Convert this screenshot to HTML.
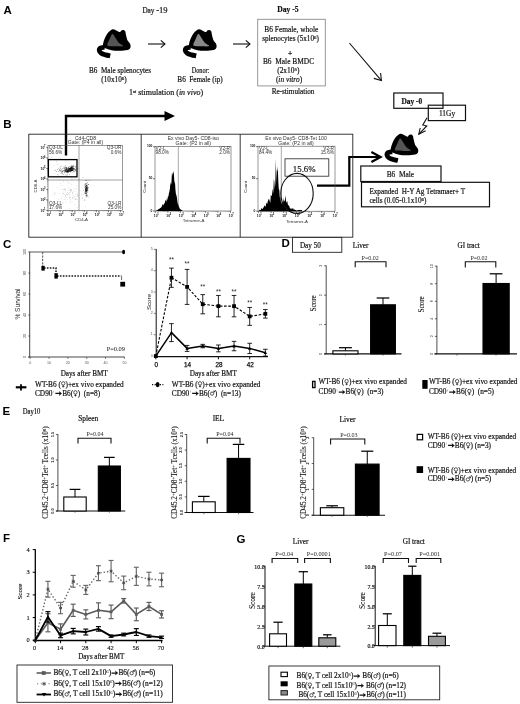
<!DOCTYPE html>
<html><head><meta charset="utf-8"><title>Figure</title>
<style>
html,body{margin:0;padding:0;background:#fff;}
body{width:520px;height:704px;overflow:hidden;font-family:"Liberation Serif",serif;}
svg{display:block;filter:blur(0.42px);}
text{white-space:pre;}
</style></head><body>
<svg width="520" height="704" viewBox="0 0 520 704">
<rect x="0" y="0" width="520" height="704" fill="#fff"/>
<text x="3.5" y="13.7" font-family="Liberation Sans" font-size="11.5" text-anchor="start" font-weight="bold" font-style="normal" fill="#000" >A</text>
<text x="155" y="12.9" font-family="Liberation Serif" font-size="8.6" text-anchor="middle" font-weight="normal" font-style="normal" fill="#111"  stroke="#111" stroke-width="0.18"><tspan font-size="7.2">Day </tspan>-19</text>
<g transform="translate(0 0) scale(1 1.0)">
<path d="M103.00,44.60 C103.15,43.28 103.60,41.23 104.40,39.30 C105.20,37.37 106.43,34.68 107.80,33.00 C109.17,31.32 111.08,29.58 112.60,29.20 C114.12,28.82 115.70,30.22 116.90,30.70 C118.10,31.18 119.07,32.13 119.80,32.10 C120.53,32.07 120.73,30.87 121.30,30.50 C121.87,30.13 122.57,29.80 123.20,29.90 C123.83,30.00 124.62,30.17 125.10,31.10 C125.58,32.03 125.70,33.97 126.10,35.50 C126.50,37.03 126.87,38.95 127.50,40.30 C128.13,41.65 129.38,42.57 129.90,43.60 C130.42,44.63 130.77,45.53 130.60,46.50 C130.43,47.47 130.38,48.70 128.90,49.40 C127.42,50.10 124.33,50.53 121.70,50.70 C119.07,50.87 115.50,50.70 113.10,50.40 C110.70,50.10 108.90,49.43 107.30,48.90 C105.70,48.37 104.22,47.92 103.50,47.20 C102.78,46.48 102.85,45.92 103.00,44.60 Z" fill="#000" stroke="none" stroke-width="1" />
<path d="M112.30,34.00 C111.33,34.35 110.23,37.73 109.40,39.50 C108.57,41.27 107.40,43.52 107.30,44.60 C107.20,45.68 107.35,45.72 108.80,46.00 C110.25,46.28 113.60,46.30 116.00,46.30 C118.40,46.30 122.73,46.60 123.20,46.00 C123.67,45.40 120.13,44.13 118.80,42.70 C117.47,41.27 116.28,38.85 115.20,37.40 C114.12,35.95 113.27,33.65 112.30,34.00 Z" fill="#555" stroke="none" stroke-width="1" />
<path d="M104.40,47.20 C103.73,47.33 101.25,47.43 100.40,48.00 C99.55,48.57 99.15,49.72 99.30,50.60 C99.45,51.48 100.27,52.58 101.30,53.30 C102.33,54.02 104.02,54.47 105.50,54.90 C106.98,55.33 109.42,55.73 110.20,55.90" fill="none" stroke="#000" stroke-width="4.8" stroke-linecap="butt"/>
</g>
<g transform="translate(86 0) scale(1 1.0)">
<path d="M103.00,44.60 C103.15,43.28 103.60,41.23 104.40,39.30 C105.20,37.37 106.43,34.68 107.80,33.00 C109.17,31.32 111.08,29.58 112.60,29.20 C114.12,28.82 115.70,30.22 116.90,30.70 C118.10,31.18 119.07,32.13 119.80,32.10 C120.53,32.07 120.73,30.87 121.30,30.50 C121.87,30.13 122.57,29.80 123.20,29.90 C123.83,30.00 124.62,30.17 125.10,31.10 C125.58,32.03 125.70,33.97 126.10,35.50 C126.50,37.03 126.87,38.95 127.50,40.30 C128.13,41.65 129.38,42.57 129.90,43.60 C130.42,44.63 130.77,45.53 130.60,46.50 C130.43,47.47 130.38,48.70 128.90,49.40 C127.42,50.10 124.33,50.53 121.70,50.70 C119.07,50.87 115.50,50.70 113.10,50.40 C110.70,50.10 108.90,49.43 107.30,48.90 C105.70,48.37 104.22,47.92 103.50,47.20 C102.78,46.48 102.85,45.92 103.00,44.60 Z" fill="#000" stroke="none" stroke-width="1" />
<path d="M112.30,34.00 C111.33,34.35 110.23,37.73 109.40,39.50 C108.57,41.27 107.40,43.52 107.30,44.60 C107.20,45.68 107.35,45.72 108.80,46.00 C110.25,46.28 113.60,46.30 116.00,46.30 C118.40,46.30 122.73,46.60 123.20,46.00 C123.67,45.40 120.13,44.13 118.80,42.70 C117.47,41.27 116.28,38.85 115.20,37.40 C114.12,35.95 113.27,33.65 112.30,34.00 Z" fill="#8a8a8a" stroke="none" stroke-width="1" />
<path d="M104.40,47.20 C103.73,47.33 101.25,47.43 100.40,48.00 C99.55,48.57 99.15,49.72 99.30,50.60 C99.45,51.48 100.27,52.58 101.30,53.30 C102.33,54.02 104.02,54.47 105.50,54.90 C106.98,55.33 109.42,55.73 110.20,55.90" fill="none" stroke="#000" stroke-width="4.8" stroke-linecap="butt"/>
</g>
<line x1="148" y1="44" x2="165" y2="44" stroke="#111" stroke-width="1.1" />
<path d="M160.8,40.4 L165,44 L160.8,47.6" fill="none" stroke="#111" stroke-width="1.1" />
<line x1="233" y1="44" x2="250" y2="44" stroke="#111" stroke-width="1.1" />
<path d="M245.8,40.4 L250,44 L245.8,47.6" fill="none" stroke="#111" stroke-width="1.1" />
<text x="120" y="73.2" font-family="Liberation Serif" font-size="7.2" text-anchor="middle" font-weight="normal" font-style="normal" fill="#111"  stroke="#111" stroke-width="0.18">B6  Male splenocytes</text>
<text x="114" y="81.7" font-family="Liberation Serif" font-size="7.2" text-anchor="middle" font-weight="normal" font-style="normal" fill="#111"  stroke="#111" stroke-width="0.18">(10x10<tspan font-size="5" baseline-shift="super">6</tspan>)</text>
<text x="200.5" y="73.2" font-family="Liberation Serif" font-size="7.2" text-anchor="middle" font-weight="normal" font-style="normal" fill="#111" textLength="17.6" lengthAdjust="spacingAndGlyphs" stroke="#111" stroke-width="0.18">Donor:</text>
<text x="200" y="81.7" font-family="Liberation Serif" font-size="7.2" text-anchor="middle" font-weight="normal" font-style="normal" fill="#111"  stroke="#111" stroke-width="0.18">B6  Female (ip)</text>
<text x="166" y="94.7" font-family="Liberation Serif" font-size="8.0" text-anchor="middle" font-weight="normal" font-style="normal" fill="#111"  stroke="#111" stroke-width="0.18">1<tspan font-size="5" baseline-shift="super">st</tspan> stimulation (<tspan font-style="italic">in vivo</tspan>)</text>
<rect x="257.7" y="19.3" width="67.6" height="66.6" fill="none" stroke="#8c8c8c" stroke-width="0.9" />
<text x="288" y="12.4" font-family="Liberation Serif" font-size="7.6" text-anchor="middle" font-weight="bold" font-style="normal" fill="#111"  stroke="#111" stroke-width="0.18">Day -5</text>
<text x="291.3" y="32.4" font-family="Liberation Serif" font-size="7.4" text-anchor="middle" font-weight="normal" font-style="normal" fill="#111"  stroke="#111" stroke-width="0.18">B6 Female, whole</text>
<text x="290.5" y="41.0" font-family="Liberation Serif" font-size="7.4" text-anchor="middle" font-weight="normal" font-style="normal" fill="#111" textLength="56.6" lengthAdjust="spacingAndGlyphs" stroke="#111" stroke-width="0.18">splenocytes (5x10<tspan font-size="5" baseline-shift="super">6</tspan>)</text>
<text x="290" y="55.8" font-family="Liberation Serif" font-size="7.4" text-anchor="middle" font-weight="bold" font-style="normal" fill="#111"  stroke="#111" stroke-width="0.18">+</text>
<text x="288.5" y="63.7" font-family="Liberation Serif" font-size="7.4" text-anchor="middle" font-weight="normal" font-style="normal" fill="#111"  stroke="#111" stroke-width="0.18">B6  Male BMDC</text>
<text x="288.3" y="72.6" font-family="Liberation Serif" font-size="7.4" text-anchor="middle" font-weight="normal" font-style="normal" fill="#111"  stroke="#111" stroke-width="0.18">(2x10<tspan font-size="5" baseline-shift="super">5</tspan>)</text>
<text x="289" y="81.5" font-family="Liberation Serif" font-size="7.4" text-anchor="middle" font-weight="normal" font-style="normal" fill="#111"  stroke="#111" stroke-width="0.18">(<tspan font-style="italic">in vitro</tspan>)</text>
<text x="293" y="93.6" font-family="Liberation Serif" font-size="7.2" text-anchor="middle" font-weight="normal" font-style="normal" fill="#111"  stroke="#111" stroke-width="0.18">Re-stimulation</text>
<line x1="349.4" y1="43" x2="381.2" y2="80.4" stroke="#111" stroke-width="1.1" />
<path d="M380.6,73 L381.4,80.6 L373.8,78.4" fill="none" stroke="#111" stroke-width="1.1" />
<rect x="393.8" y="93" width="49.2" height="15.3" fill="none" stroke="#111" stroke-width="1.2" />
<text x="411.8" y="104.0" font-family="Liberation Serif" font-size="7.4" text-anchor="middle" font-weight="bold" font-style="normal" fill="#111"  stroke="#111" stroke-width="0.18">Day -0</text>
<rect x="428.3" y="105.2" width="37.2" height="15.4" fill="none" stroke="#111" stroke-width="1.2" />
<text x="447" y="115.9" font-family="Liberation Serif" font-size="7.4" text-anchor="middle" font-weight="normal" font-style="normal" fill="#111"  stroke="#111" stroke-width="0.18">11Gy</text>
<path d="M427,117.7 L422.8,125 L426.8,126 L418.8,134.2" fill="none" stroke="#111" stroke-width="1.1" />
<path d="M420.2,128 L418.8,134.2 L425.6,130.8" fill="none" stroke="#111" stroke-width="1.1" />
<g transform="translate(287.7 104.6) scale(1 1.0)">
<path d="M103.00,44.60 C103.15,43.28 103.60,41.23 104.40,39.30 C105.20,37.37 106.43,34.68 107.80,33.00 C109.17,31.32 111.08,29.58 112.60,29.20 C114.12,28.82 115.70,30.22 116.90,30.70 C118.10,31.18 119.07,32.13 119.80,32.10 C120.53,32.07 120.73,30.87 121.30,30.50 C121.87,30.13 122.57,29.80 123.20,29.90 C123.83,30.00 124.62,30.17 125.10,31.10 C125.58,32.03 125.70,33.97 126.10,35.50 C126.50,37.03 126.87,38.95 127.50,40.30 C128.13,41.65 129.38,42.57 129.90,43.60 C130.42,44.63 130.77,45.53 130.60,46.50 C130.43,47.47 130.38,48.70 128.90,49.40 C127.42,50.10 124.33,50.53 121.70,50.70 C119.07,50.87 115.50,50.70 113.10,50.40 C110.70,50.10 108.90,49.43 107.30,48.90 C105.70,48.37 104.22,47.92 103.50,47.20 C102.78,46.48 102.85,45.92 103.00,44.60 Z" fill="#000" stroke="none" stroke-width="1" />
<path d="M112.30,34.00 C111.33,34.35 110.23,37.73 109.40,39.50 C108.57,41.27 107.40,43.52 107.30,44.60 C107.20,45.68 107.35,45.72 108.80,46.00 C110.25,46.28 113.60,46.30 116.00,46.30 C118.40,46.30 122.73,46.60 123.20,46.00 C123.67,45.40 120.13,44.13 118.80,42.70 C117.47,41.27 116.28,38.85 115.20,37.40 C114.12,35.95 113.27,33.65 112.30,34.00 Z" fill="#555" stroke="none" stroke-width="1" />
<path d="M104.40,47.20 C103.73,47.33 101.25,47.43 100.40,48.00 C99.55,48.57 99.15,49.72 99.30,50.60 C99.45,51.48 100.27,52.58 101.30,53.30 C102.33,54.02 104.02,54.47 105.50,54.90 C106.98,55.33 109.42,55.73 110.20,55.90" fill="none" stroke="#000" stroke-width="4.8" stroke-linecap="butt"/>
</g>
<rect x="360.8" y="166" width="80.2" height="15.5" fill="#fff" stroke="#111" stroke-width="1.2" />
<text x="400.4" y="176.8" font-family="Liberation Serif" font-size="7.4" text-anchor="middle" font-weight="normal" font-style="normal" fill="#111"  stroke="#111" stroke-width="0.18">B6  Male</text>
<rect x="361.5" y="182.3" width="128" height="24.5" fill="#fff" stroke="#111" stroke-width="1.2" />
<text x="369.4" y="194.2" font-family="Liberation Serif" font-size="7.2" text-anchor="start" font-weight="normal" font-style="normal" fill="#111"  stroke="#111" stroke-width="0.18">Expanded  H-Y Ag Tetramaer+ T</text>
<text x="369.4" y="202.8" font-family="Liberation Serif" font-size="7.2" text-anchor="start" font-weight="normal" font-style="normal" fill="#111"  stroke="#111" stroke-width="0.18">cells (0.05-0.1x10<tspan font-size="5" baseline-shift="super">6</tspan>)</text>
<path d="M66,155.4 L66,116 L166,116" fill="none" stroke="#000" stroke-width="2.4" />
<path d="M164.5,111 L175,116 L164.5,121 Z" fill="#000" stroke="none" stroke-width="1" />
<path d="M317,185.6 L349.3,185.6 L349.3,157 L379,157" fill="none" stroke="#000" stroke-width="2.2" />
<path d="M371.4,152 L380.6,157 L371.4,162" fill="none" stroke="#000" stroke-width="2.2" stroke-linejoin="miter"/>
<text x="3.2" y="128.2" font-family="Liberation Sans" font-size="11.5" text-anchor="start" font-weight="bold" font-style="normal" fill="#000" >B</text>
<rect x="28.8" y="134.2" width="324" height="103" fill="none" stroke="#222" stroke-width="0.9" />
<line x1="141.2" y1="134.2" x2="141.2" y2="237.2" stroke="#222" stroke-width="0.9" />
<line x1="240.2" y1="134.2" x2="240.2" y2="237.2" stroke="#222" stroke-width="0.9" />
<rect x="48" y="145.4" width="74.4" height="65.0" fill="none" stroke="#555" stroke-width="0.6" />
<text x="85.5" y="140.0" font-family="Liberation Sans" font-size="5.1" text-anchor="middle" font-weight="normal" font-style="normal" fill="#333" >Cd4-CD8</text>
<text x="85.5" y="144.4" font-family="Liberation Sans" font-size="5.1" text-anchor="middle" font-weight="normal" font-style="normal" fill="#333" >Gate: (P4 in all)</text>
<line x1="79" y1="145.4" x2="79" y2="210.4" stroke="#333" stroke-width="0.45" />
<line x1="48" y1="180" x2="122.4" y2="180" stroke="#333" stroke-width="0.45" />
<text x="49" y="149.4" font-family="Liberation Sans" font-size="4.7" text-anchor="start" font-weight="normal" font-style="normal" fill="#333" >Q3-UL</text>
<text x="49" y="153.6" font-family="Liberation Sans" font-size="4.7" text-anchor="start" font-weight="normal" font-style="normal" fill="#333" >56.6%</text>
<text x="121.4" y="149.4" font-family="Liberation Sans" font-size="4.7" text-anchor="end" font-weight="normal" font-style="normal" fill="#333" >Q3-UR</text>
<text x="121.4" y="153.6" font-family="Liberation Sans" font-size="4.7" text-anchor="end" font-weight="normal" font-style="normal" fill="#333" >0.6%</text>
<text x="49" y="204.8" font-family="Liberation Sans" font-size="4.7" text-anchor="start" font-weight="normal" font-style="normal" fill="#333" >Q3-LL</text>
<text x="49" y="208.8" font-family="Liberation Sans" font-size="4.7" text-anchor="start" font-weight="normal" font-style="normal" fill="#333" >17.6%</text>
<text x="121.4" y="204.8" font-family="Liberation Sans" font-size="4.7" text-anchor="end" font-weight="normal" font-style="normal" fill="#333" >Q3-LR</text>
<text x="121.4" y="208.8" font-family="Liberation Sans" font-size="4.7" text-anchor="end" font-weight="normal" font-style="normal" fill="#333" >25.0%</text>
<text x="81.5" y="220.6" font-family="Liberation Sans" font-size="4.3" text-anchor="middle" font-weight="normal" font-style="normal" fill="#333" >CD4-A</text>
<text x="36.8" y="186" font-family="Liberation Sans" font-size="4.3" text-anchor="middle" font-weight="normal" font-style="normal" fill="#333" transform="rotate(-90 36.8 186)" >CD8-A</text>
<line x1="48.0" y1="210.4" x2="48.0" y2="212.20000000000002" stroke="#222" stroke-width="0.6" />
<text x="46.4" y="216.0" font-family="Liberation Sans" font-size="3.3" text-anchor="start" font-weight="bold" font-style="normal" fill="#111" >10</text>
<text x="49.8" y="214.2" font-family="Liberation Sans" font-size="2.6" text-anchor="start" font-weight="bold" font-style="normal" fill="#111" >1</text>
<line x1="46.2" y1="210.4" x2="48" y2="210.4" stroke="#222" stroke-width="0.6" />
<text x="40.6" y="211.8" font-family="Liberation Sans" font-size="3.3" text-anchor="start" font-weight="bold" font-style="normal" fill="#111" >10</text>
<text x="44.0" y="210.0" font-family="Liberation Sans" font-size="2.6" text-anchor="start" font-weight="bold" font-style="normal" fill="#111" >1</text>
<line x1="60.1" y1="210.4" x2="60.1" y2="212.20000000000002" stroke="#222" stroke-width="0.6" />
<text x="58.5" y="216.0" font-family="Liberation Sans" font-size="3.3" text-anchor="start" font-weight="bold" font-style="normal" fill="#111" >10</text>
<text x="61.9" y="214.2" font-family="Liberation Sans" font-size="2.6" text-anchor="start" font-weight="bold" font-style="normal" fill="#111" >2</text>
<line x1="46.2" y1="199.9" x2="48" y2="199.9" stroke="#222" stroke-width="0.6" />
<text x="40.6" y="201.3" font-family="Liberation Sans" font-size="3.3" text-anchor="start" font-weight="bold" font-style="normal" fill="#111" >10</text>
<text x="44.0" y="199.5" font-family="Liberation Sans" font-size="2.6" text-anchor="start" font-weight="bold" font-style="normal" fill="#111" >2</text>
<line x1="72.2" y1="210.4" x2="72.2" y2="212.20000000000002" stroke="#222" stroke-width="0.6" />
<text x="70.60000000000001" y="216.0" font-family="Liberation Sans" font-size="3.3" text-anchor="start" font-weight="bold" font-style="normal" fill="#111" >10</text>
<text x="74.0" y="214.2" font-family="Liberation Sans" font-size="2.6" text-anchor="start" font-weight="bold" font-style="normal" fill="#111" >3</text>
<line x1="46.2" y1="189.4" x2="48" y2="189.4" stroke="#222" stroke-width="0.6" />
<text x="40.6" y="190.8" font-family="Liberation Sans" font-size="3.3" text-anchor="start" font-weight="bold" font-style="normal" fill="#111" >10</text>
<text x="44.0" y="189.0" font-family="Liberation Sans" font-size="2.6" text-anchor="start" font-weight="bold" font-style="normal" fill="#111" >3</text>
<line x1="84.3" y1="210.4" x2="84.3" y2="212.20000000000002" stroke="#222" stroke-width="0.6" />
<text x="82.7" y="216.0" font-family="Liberation Sans" font-size="3.3" text-anchor="start" font-weight="bold" font-style="normal" fill="#111" >10</text>
<text x="86.1" y="214.2" font-family="Liberation Sans" font-size="2.6" text-anchor="start" font-weight="bold" font-style="normal" fill="#111" >4</text>
<line x1="46.2" y1="178.9" x2="48" y2="178.9" stroke="#222" stroke-width="0.6" />
<text x="40.6" y="180.3" font-family="Liberation Sans" font-size="3.3" text-anchor="start" font-weight="bold" font-style="normal" fill="#111" >10</text>
<text x="44.0" y="178.5" font-family="Liberation Sans" font-size="2.6" text-anchor="start" font-weight="bold" font-style="normal" fill="#111" >4</text>
<line x1="96.4" y1="210.4" x2="96.4" y2="212.20000000000002" stroke="#222" stroke-width="0.6" />
<text x="94.80000000000001" y="216.0" font-family="Liberation Sans" font-size="3.3" text-anchor="start" font-weight="bold" font-style="normal" fill="#111" >10</text>
<text x="98.2" y="214.2" font-family="Liberation Sans" font-size="2.6" text-anchor="start" font-weight="bold" font-style="normal" fill="#111" >5</text>
<line x1="46.2" y1="168.4" x2="48" y2="168.4" stroke="#222" stroke-width="0.6" />
<text x="40.6" y="169.8" font-family="Liberation Sans" font-size="3.3" text-anchor="start" font-weight="bold" font-style="normal" fill="#111" >10</text>
<text x="44.0" y="168.0" font-family="Liberation Sans" font-size="2.6" text-anchor="start" font-weight="bold" font-style="normal" fill="#111" >5</text>
<line x1="108.5" y1="210.4" x2="108.5" y2="212.20000000000002" stroke="#222" stroke-width="0.6" />
<text x="106.9" y="216.0" font-family="Liberation Sans" font-size="3.3" text-anchor="start" font-weight="bold" font-style="normal" fill="#111" >10</text>
<text x="110.3" y="214.2" font-family="Liberation Sans" font-size="2.6" text-anchor="start" font-weight="bold" font-style="normal" fill="#111" >6</text>
<line x1="46.2" y1="157.9" x2="48" y2="157.9" stroke="#222" stroke-width="0.6" />
<text x="40.6" y="159.3" font-family="Liberation Sans" font-size="3.3" text-anchor="start" font-weight="bold" font-style="normal" fill="#111" >10</text>
<text x="44.0" y="157.5" font-family="Liberation Sans" font-size="2.6" text-anchor="start" font-weight="bold" font-style="normal" fill="#111" >6</text>
<line x1="120.6" y1="210.4" x2="120.6" y2="212.20000000000002" stroke="#222" stroke-width="0.6" />
<text x="119.0" y="216.0" font-family="Liberation Sans" font-size="3.3" text-anchor="start" font-weight="bold" font-style="normal" fill="#111" >10</text>
<text x="122.39999999999999" y="214.2" font-family="Liberation Sans" font-size="2.6" text-anchor="start" font-weight="bold" font-style="normal" fill="#111" >7</text>
<line x1="46.2" y1="147.4" x2="48" y2="147.4" stroke="#222" stroke-width="0.6" />
<text x="40.6" y="148.8" font-family="Liberation Sans" font-size="3.3" text-anchor="start" font-weight="bold" font-style="normal" fill="#111" >10</text>
<text x="44.0" y="147.0" font-family="Liberation Sans" font-size="2.6" text-anchor="start" font-weight="bold" font-style="normal" fill="#111" >7</text>
<line x1="51.6" y1="210.4" x2="51.6" y2="211.3" stroke="#555" stroke-width="0.3" />
<line x1="47.1" y1="207.27603305785124" x2="48" y2="207.27603305785124" stroke="#555" stroke-width="0.3" />
<line x1="53.8" y1="210.4" x2="53.8" y2="211.3" stroke="#555" stroke-width="0.3" />
<line x1="47.1" y1="205.36694214876033" x2="48" y2="205.36694214876033" stroke="#555" stroke-width="0.3" />
<line x1="55.3" y1="210.4" x2="55.3" y2="211.3" stroke="#555" stroke-width="0.3" />
<line x1="47.1" y1="204.06528925619835" x2="48" y2="204.06528925619835" stroke="#555" stroke-width="0.3" />
<line x1="56.5" y1="210.4" x2="56.5" y2="211.3" stroke="#555" stroke-width="0.3" />
<line x1="47.1" y1="203.02396694214877" x2="48" y2="203.02396694214877" stroke="#555" stroke-width="0.3" />
<line x1="57.5" y1="210.4" x2="57.5" y2="211.3" stroke="#555" stroke-width="0.3" />
<line x1="47.1" y1="202.15619834710745" x2="48" y2="202.15619834710745" stroke="#555" stroke-width="0.3" />
<line x1="58.3" y1="210.4" x2="58.3" y2="211.3" stroke="#555" stroke-width="0.3" />
<line x1="47.1" y1="201.46198347107438" x2="48" y2="201.46198347107438" stroke="#555" stroke-width="0.3" />
<line x1="59.0" y1="210.4" x2="59.0" y2="211.3" stroke="#555" stroke-width="0.3" />
<line x1="47.1" y1="200.85454545454547" x2="48" y2="200.85454545454547" stroke="#555" stroke-width="0.3" />
<line x1="59.6" y1="210.4" x2="59.6" y2="211.3" stroke="#555" stroke-width="0.3" />
<line x1="47.1" y1="200.33388429752065" x2="48" y2="200.33388429752065" stroke="#555" stroke-width="0.3" />
<line x1="63.7" y1="210.4" x2="63.7" y2="211.3" stroke="#555" stroke-width="0.3" />
<line x1="47.1" y1="196.77603305785124" x2="48" y2="196.77603305785124" stroke="#555" stroke-width="0.3" />
<line x1="65.9" y1="210.4" x2="65.9" y2="211.3" stroke="#555" stroke-width="0.3" />
<line x1="47.1" y1="194.86694214876033" x2="48" y2="194.86694214876033" stroke="#555" stroke-width="0.3" />
<line x1="67.4" y1="210.4" x2="67.4" y2="211.3" stroke="#555" stroke-width="0.3" />
<line x1="47.1" y1="193.56528925619835" x2="48" y2="193.56528925619835" stroke="#555" stroke-width="0.3" />
<line x1="68.6" y1="210.4" x2="68.6" y2="211.3" stroke="#555" stroke-width="0.3" />
<line x1="47.1" y1="192.52396694214877" x2="48" y2="192.52396694214877" stroke="#555" stroke-width="0.3" />
<line x1="69.6" y1="210.4" x2="69.6" y2="211.3" stroke="#555" stroke-width="0.3" />
<line x1="47.1" y1="191.65619834710745" x2="48" y2="191.65619834710745" stroke="#555" stroke-width="0.3" />
<line x1="70.4" y1="210.4" x2="70.4" y2="211.3" stroke="#555" stroke-width="0.3" />
<line x1="47.1" y1="190.96198347107438" x2="48" y2="190.96198347107438" stroke="#555" stroke-width="0.3" />
<line x1="71.1" y1="210.4" x2="71.1" y2="211.3" stroke="#555" stroke-width="0.3" />
<line x1="47.1" y1="190.35454545454547" x2="48" y2="190.35454545454547" stroke="#555" stroke-width="0.3" />
<line x1="71.7" y1="210.4" x2="71.7" y2="211.3" stroke="#555" stroke-width="0.3" />
<line x1="47.1" y1="189.83388429752065" x2="48" y2="189.83388429752065" stroke="#555" stroke-width="0.3" />
<line x1="75.8" y1="210.4" x2="75.8" y2="211.3" stroke="#555" stroke-width="0.3" />
<line x1="47.1" y1="186.27603305785124" x2="48" y2="186.27603305785124" stroke="#555" stroke-width="0.3" />
<line x1="78.0" y1="210.4" x2="78.0" y2="211.3" stroke="#555" stroke-width="0.3" />
<line x1="47.1" y1="184.36694214876033" x2="48" y2="184.36694214876033" stroke="#555" stroke-width="0.3" />
<line x1="79.5" y1="210.4" x2="79.5" y2="211.3" stroke="#555" stroke-width="0.3" />
<line x1="47.1" y1="183.06528925619835" x2="48" y2="183.06528925619835" stroke="#555" stroke-width="0.3" />
<line x1="80.7" y1="210.4" x2="80.7" y2="211.3" stroke="#555" stroke-width="0.3" />
<line x1="47.1" y1="182.02396694214877" x2="48" y2="182.02396694214877" stroke="#555" stroke-width="0.3" />
<line x1="81.7" y1="210.4" x2="81.7" y2="211.3" stroke="#555" stroke-width="0.3" />
<line x1="47.1" y1="181.15619834710745" x2="48" y2="181.15619834710745" stroke="#555" stroke-width="0.3" />
<line x1="82.5" y1="210.4" x2="82.5" y2="211.3" stroke="#555" stroke-width="0.3" />
<line x1="47.1" y1="180.46198347107438" x2="48" y2="180.46198347107438" stroke="#555" stroke-width="0.3" />
<line x1="83.2" y1="210.4" x2="83.2" y2="211.3" stroke="#555" stroke-width="0.3" />
<line x1="47.1" y1="179.85454545454547" x2="48" y2="179.85454545454547" stroke="#555" stroke-width="0.3" />
<line x1="83.8" y1="210.4" x2="83.8" y2="211.3" stroke="#555" stroke-width="0.3" />
<line x1="47.1" y1="179.33388429752065" x2="48" y2="179.33388429752065" stroke="#555" stroke-width="0.3" />
<line x1="87.89999999999999" y1="210.4" x2="87.89999999999999" y2="211.3" stroke="#555" stroke-width="0.3" />
<line x1="47.1" y1="175.77603305785124" x2="48" y2="175.77603305785124" stroke="#555" stroke-width="0.3" />
<line x1="90.1" y1="210.4" x2="90.1" y2="211.3" stroke="#555" stroke-width="0.3" />
<line x1="47.1" y1="173.86694214876033" x2="48" y2="173.86694214876033" stroke="#555" stroke-width="0.3" />
<line x1="91.6" y1="210.4" x2="91.6" y2="211.3" stroke="#555" stroke-width="0.3" />
<line x1="47.1" y1="172.56528925619835" x2="48" y2="172.56528925619835" stroke="#555" stroke-width="0.3" />
<line x1="92.8" y1="210.4" x2="92.8" y2="211.3" stroke="#555" stroke-width="0.3" />
<line x1="47.1" y1="171.52396694214877" x2="48" y2="171.52396694214877" stroke="#555" stroke-width="0.3" />
<line x1="93.8" y1="210.4" x2="93.8" y2="211.3" stroke="#555" stroke-width="0.3" />
<line x1="47.1" y1="170.65619834710745" x2="48" y2="170.65619834710745" stroke="#555" stroke-width="0.3" />
<line x1="94.6" y1="210.4" x2="94.6" y2="211.3" stroke="#555" stroke-width="0.3" />
<line x1="47.1" y1="169.96198347107438" x2="48" y2="169.96198347107438" stroke="#555" stroke-width="0.3" />
<line x1="95.3" y1="210.4" x2="95.3" y2="211.3" stroke="#555" stroke-width="0.3" />
<line x1="47.1" y1="169.35454545454547" x2="48" y2="169.35454545454547" stroke="#555" stroke-width="0.3" />
<line x1="95.89999999999999" y1="210.4" x2="95.89999999999999" y2="211.3" stroke="#555" stroke-width="0.3" />
<line x1="47.1" y1="168.83388429752065" x2="48" y2="168.83388429752065" stroke="#555" stroke-width="0.3" />
<line x1="100.0" y1="210.4" x2="100.0" y2="211.3" stroke="#555" stroke-width="0.3" />
<line x1="47.1" y1="165.27603305785124" x2="48" y2="165.27603305785124" stroke="#555" stroke-width="0.3" />
<line x1="102.2" y1="210.4" x2="102.2" y2="211.3" stroke="#555" stroke-width="0.3" />
<line x1="47.1" y1="163.36694214876033" x2="48" y2="163.36694214876033" stroke="#555" stroke-width="0.3" />
<line x1="103.7" y1="210.4" x2="103.7" y2="211.3" stroke="#555" stroke-width="0.3" />
<line x1="47.1" y1="162.06528925619835" x2="48" y2="162.06528925619835" stroke="#555" stroke-width="0.3" />
<line x1="104.9" y1="210.4" x2="104.9" y2="211.3" stroke="#555" stroke-width="0.3" />
<line x1="47.1" y1="161.02396694214877" x2="48" y2="161.02396694214877" stroke="#555" stroke-width="0.3" />
<line x1="105.9" y1="210.4" x2="105.9" y2="211.3" stroke="#555" stroke-width="0.3" />
<line x1="47.1" y1="160.15619834710745" x2="48" y2="160.15619834710745" stroke="#555" stroke-width="0.3" />
<line x1="106.7" y1="210.4" x2="106.7" y2="211.3" stroke="#555" stroke-width="0.3" />
<line x1="47.1" y1="159.46198347107438" x2="48" y2="159.46198347107438" stroke="#555" stroke-width="0.3" />
<line x1="107.4" y1="210.4" x2="107.4" y2="211.3" stroke="#555" stroke-width="0.3" />
<line x1="47.1" y1="158.85454545454547" x2="48" y2="158.85454545454547" stroke="#555" stroke-width="0.3" />
<line x1="108.0" y1="210.4" x2="108.0" y2="211.3" stroke="#555" stroke-width="0.3" />
<line x1="47.1" y1="158.33388429752065" x2="48" y2="158.33388429752065" stroke="#555" stroke-width="0.3" />
<line x1="112.1" y1="210.4" x2="112.1" y2="211.3" stroke="#555" stroke-width="0.3" />
<line x1="47.1" y1="154.77603305785124" x2="48" y2="154.77603305785124" stroke="#555" stroke-width="0.3" />
<line x1="114.3" y1="210.4" x2="114.3" y2="211.3" stroke="#555" stroke-width="0.3" />
<line x1="47.1" y1="152.86694214876033" x2="48" y2="152.86694214876033" stroke="#555" stroke-width="0.3" />
<line x1="115.8" y1="210.4" x2="115.8" y2="211.3" stroke="#555" stroke-width="0.3" />
<line x1="47.1" y1="151.56528925619835" x2="48" y2="151.56528925619835" stroke="#555" stroke-width="0.3" />
<line x1="117.0" y1="210.4" x2="117.0" y2="211.3" stroke="#555" stroke-width="0.3" />
<line x1="47.1" y1="150.52396694214877" x2="48" y2="150.52396694214877" stroke="#555" stroke-width="0.3" />
<line x1="118.0" y1="210.4" x2="118.0" y2="211.3" stroke="#555" stroke-width="0.3" />
<line x1="47.1" y1="149.65619834710745" x2="48" y2="149.65619834710745" stroke="#555" stroke-width="0.3" />
<line x1="118.8" y1="210.4" x2="118.8" y2="211.3" stroke="#555" stroke-width="0.3" />
<line x1="47.1" y1="148.96198347107438" x2="48" y2="148.96198347107438" stroke="#555" stroke-width="0.3" />
<line x1="119.5" y1="210.4" x2="119.5" y2="211.3" stroke="#555" stroke-width="0.3" />
<line x1="47.1" y1="148.35454545454547" x2="48" y2="148.35454545454547" stroke="#555" stroke-width="0.3" />
<line x1="120.1" y1="210.4" x2="120.1" y2="211.3" stroke="#555" stroke-width="0.3" />
<line x1="47.1" y1="147.83388429752065" x2="48" y2="147.83388429752065" stroke="#555" stroke-width="0.3" />
<path d="M69.1,170.0h0.72v0.72h-0.72zM69.1,169.1h0.72v0.72h-0.72zM67.7,169.6h0.72v0.72h-0.72zM71.8,169.2h0.72v0.72h-0.72zM71.7,169.0h0.72v0.72h-0.72zM70.4,169.3h0.72v0.72h-0.72zM66.3,171.1h0.72v0.72h-0.72zM70.6,169.6h0.72v0.72h-0.72zM66.2,168.3h0.72v0.72h-0.72zM67.8,169.3h0.72v0.72h-0.72zM70.2,169.1h0.72v0.72h-0.72zM70.6,168.3h0.72v0.72h-0.72zM70.2,169.6h0.72v0.72h-0.72zM68.3,171.5h0.72v0.72h-0.72zM70.7,170.3h0.72v0.72h-0.72zM68.4,168.8h0.72v0.72h-0.72zM68.9,169.4h0.72v0.72h-0.72zM70.9,169.2h0.72v0.72h-0.72zM68.7,168.5h0.72v0.72h-0.72zM68.6,170.9h0.72v0.72h-0.72zM68.0,170.0h0.72v0.72h-0.72zM70.5,167.5h0.72v0.72h-0.72zM69.7,170.7h0.72v0.72h-0.72zM65.6,170.0h0.72v0.72h-0.72zM69.4,168.5h0.72v0.72h-0.72zM70.6,169.0h0.72v0.72h-0.72zM66.7,171.0h0.72v0.72h-0.72zM70.9,170.0h0.72v0.72h-0.72zM72.5,168.9h0.72v0.72h-0.72zM69.8,167.8h0.72v0.72h-0.72zM70.8,168.3h0.72v0.72h-0.72zM68.7,168.2h0.72v0.72h-0.72zM67.7,169.3h0.72v0.72h-0.72zM72.2,166.4h0.72v0.72h-0.72zM66.7,170.3h0.72v0.72h-0.72zM72.5,169.1h0.72v0.72h-0.72zM65.8,167.6h0.72v0.72h-0.72zM70.3,168.3h0.72v0.72h-0.72zM67.4,171.0h0.72v0.72h-0.72zM71.8,168.9h0.72v0.72h-0.72zM70.1,169.6h0.72v0.72h-0.72zM72.8,169.1h0.72v0.72h-0.72zM70.6,169.6h0.72v0.72h-0.72zM66.5,171.5h0.72v0.72h-0.72zM71.5,169.4h0.72v0.72h-0.72zM65.7,169.7h0.72v0.72h-0.72zM71.3,166.9h0.72v0.72h-0.72zM69.2,170.5h0.72v0.72h-0.72zM67.0,171.7h0.72v0.72h-0.72zM70.7,168.8h0.72v0.72h-0.72zM70.2,169.8h0.72v0.72h-0.72zM69.8,170.5h0.72v0.72h-0.72zM68.3,169.2h0.72v0.72h-0.72zM71.7,168.8h0.72v0.72h-0.72zM67.8,170.8h0.72v0.72h-0.72zM72.5,168.0h0.72v0.72h-0.72zM66.8,169.9h0.72v0.72h-0.72zM69.3,169.1h0.72v0.72h-0.72zM72.4,167.4h0.72v0.72h-0.72zM72.1,167.3h0.72v0.72h-0.72zM68.0,170.4h0.72v0.72h-0.72zM71.9,169.6h0.72v0.72h-0.72zM70.3,169.3h0.72v0.72h-0.72zM69.9,169.8h0.72v0.72h-0.72zM69.2,169.7h0.72v0.72h-0.72zM70.7,169.0h0.72v0.72h-0.72zM71.1,169.5h0.72v0.72h-0.72zM73.6,168.6h0.72v0.72h-0.72zM68.7,169.1h0.72v0.72h-0.72zM69.6,170.3h0.72v0.72h-0.72zM68.9,169.9h0.72v0.72h-0.72zM73.3,165.6h0.72v0.72h-0.72zM67.4,170.2h0.72v0.72h-0.72zM70.4,169.3h0.72v0.72h-0.72zM68.7,170.2h0.72v0.72h-0.72zM70.2,168.6h0.72v0.72h-0.72zM74.5,168.4h0.72v0.72h-0.72zM68.5,169.5h0.72v0.72h-0.72zM69.1,169.4h0.72v0.72h-0.72zM64.1,170.3h0.72v0.72h-0.72zM71.6,167.5h0.72v0.72h-0.72zM69.5,170.4h0.72v0.72h-0.72zM71.3,170.4h0.72v0.72h-0.72zM66.2,169.8h0.72v0.72h-0.72zM68.9,170.2h0.72v0.72h-0.72zM71.8,165.8h0.72v0.72h-0.72zM71.8,167.2h0.72v0.72h-0.72zM71.0,167.3h0.72v0.72h-0.72zM70.0,170.5h0.72v0.72h-0.72zM69.3,169.6h0.72v0.72h-0.72zM71.2,169.0h0.72v0.72h-0.72zM69.4,171.0h0.72v0.72h-0.72zM71.7,168.4h0.72v0.72h-0.72zM75.1,166.6h0.72v0.72h-0.72zM71.4,168.5h0.72v0.72h-0.72zM69.9,170.0h0.72v0.72h-0.72zM70.0,169.9h0.72v0.72h-0.72zM66.5,168.5h0.72v0.72h-0.72zM70.8,167.9h0.72v0.72h-0.72zM67.5,168.3h0.72v0.72h-0.72zM72.1,169.4h0.72v0.72h-0.72zM72.5,167.5h0.72v0.72h-0.72zM69.6,168.1h0.72v0.72h-0.72zM71.1,170.6h0.72v0.72h-0.72zM67.8,171.5h0.72v0.72h-0.72zM71.6,168.6h0.72v0.72h-0.72zM65.7,171.9h0.72v0.72h-0.72zM69.4,168.7h0.72v0.72h-0.72zM70.4,169.5h0.72v0.72h-0.72zM72.6,167.4h0.72v0.72h-0.72zM71.9,170.3h0.72v0.72h-0.72zM72.5,168.3h0.72v0.72h-0.72zM68.1,170.8h0.72v0.72h-0.72zM69.8,169.4h0.72v0.72h-0.72zM72.4,168.2h0.72v0.72h-0.72zM65.0,170.1h0.72v0.72h-0.72zM65.9,171.2h0.72v0.72h-0.72zM70.2,168.5h0.72v0.72h-0.72zM69.6,170.2h0.72v0.72h-0.72zM69.8,170.7h0.72v0.72h-0.72zM69.5,170.4h0.72v0.72h-0.72zM72.6,170.2h0.72v0.72h-0.72zM68.3,170.6h0.72v0.72h-0.72zM65.8,169.2h0.72v0.72h-0.72zM65.7,171.5h0.72v0.72h-0.72zM67.1,170.0h0.72v0.72h-0.72zM69.2,169.4h0.72v0.72h-0.72zM68.4,169.9h0.72v0.72h-0.72zM73.2,168.4h0.72v0.72h-0.72zM70.7,170.1h0.72v0.72h-0.72zM69.2,168.1h0.72v0.72h-0.72zM68.5,170.8h0.72v0.72h-0.72zM66.3,169.5h0.72v0.72h-0.72zM71.6,169.6h0.72v0.72h-0.72zM69.6,170.2h0.72v0.72h-0.72zM69.9,167.9h0.72v0.72h-0.72zM66.5,169.5h0.72v0.72h-0.72zM71.4,168.2h0.72v0.72h-0.72zM67.8,169.0h0.72v0.72h-0.72zM66.5,170.0h0.72v0.72h-0.72zM67.2,170.3h0.72v0.72h-0.72zM64.9,170.9h0.72v0.72h-0.72zM68.3,167.6h0.72v0.72h-0.72zM71.0,168.6h0.72v0.72h-0.72zM65.1,169.6h0.72v0.72h-0.72zM70.2,168.7h0.72v0.72h-0.72zM71.2,169.7h0.72v0.72h-0.72zM70.9,169.3h0.72v0.72h-0.72zM72.3,169.3h0.72v0.72h-0.72zM70.5,166.8h0.72v0.72h-0.72zM71.4,170.2h0.72v0.72h-0.72zM69.0,169.0h0.72v0.72h-0.72zM73.5,166.4h0.72v0.72h-0.72zM70.5,171.6h0.72v0.72h-0.72zM67.7,170.5h0.72v0.72h-0.72zM73.4,168.2h0.72v0.72h-0.72zM70.7,170.0h0.72v0.72h-0.72zM67.8,169.7h0.72v0.72h-0.72zM70.2,170.0h0.72v0.72h-0.72zM69.5,169.1h0.72v0.72h-0.72zM67.6,169.5h0.72v0.72h-0.72zM71.4,168.9h0.72v0.72h-0.72zM67.9,168.9h0.72v0.72h-0.72zM74.9,169.1h0.72v0.72h-0.72zM70.9,166.2h0.72v0.72h-0.72zM70.8,169.5h0.72v0.72h-0.72zM73.0,168.8h0.72v0.72h-0.72zM69.5,169.9h0.72v0.72h-0.72zM65.7,171.5h0.72v0.72h-0.72zM70.2,168.4h0.72v0.72h-0.72z" fill="#000" opacity="1"/>
<path d="M72.6,172.5h0.60v0.60h-0.60zM59.0,169.6h0.60v0.60h-0.60zM67.5,170.2h0.60v0.60h-0.60zM64.0,168.5h0.60v0.60h-0.60zM76.6,170.7h0.60v0.60h-0.60zM60.0,168.2h0.60v0.60h-0.60zM74.5,170.8h0.60v0.60h-0.60zM75.1,170.4h0.60v0.60h-0.60zM61.6,171.0h0.60v0.60h-0.60zM55.2,169.9h0.60v0.60h-0.60zM65.7,171.0h0.60v0.60h-0.60zM62.4,170.2h0.60v0.60h-0.60zM68.3,170.4h0.60v0.60h-0.60zM69.2,170.0h0.60v0.60h-0.60zM64.4,171.6h0.60v0.60h-0.60zM66.2,168.5h0.60v0.60h-0.60zM62.9,170.4h0.60v0.60h-0.60zM65.5,170.3h0.60v0.60h-0.60zM66.0,170.3h0.60v0.60h-0.60zM65.3,167.8h0.60v0.60h-0.60zM68.1,171.7h0.60v0.60h-0.60zM68.2,169.4h0.60v0.60h-0.60zM68.2,168.0h0.60v0.60h-0.60zM56.5,171.2h0.60v0.60h-0.60zM61.3,171.9h0.60v0.60h-0.60zM60.6,165.9h0.60v0.60h-0.60zM60.8,173.5h0.60v0.60h-0.60zM64.1,167.7h0.60v0.60h-0.60zM62.2,171.4h0.60v0.60h-0.60zM68.5,170.0h0.60v0.60h-0.60zM73.4,170.4h0.60v0.60h-0.60zM65.9,171.1h0.60v0.60h-0.60zM74.3,170.8h0.60v0.60h-0.60zM71.1,167.5h0.60v0.60h-0.60zM65.3,171.4h0.60v0.60h-0.60zM64.5,172.1h0.60v0.60h-0.60zM69.0,171.3h0.60v0.60h-0.60zM64.9,174.7h0.60v0.60h-0.60zM72.2,168.9h0.60v0.60h-0.60zM66.5,174.7h0.60v0.60h-0.60zM64.3,171.8h0.60v0.60h-0.60zM70.9,169.5h0.60v0.60h-0.60zM60.2,171.0h0.60v0.60h-0.60zM67.8,171.8h0.60v0.60h-0.60zM69.9,169.6h0.60v0.60h-0.60zM70.3,170.5h0.60v0.60h-0.60zM67.0,170.0h0.60v0.60h-0.60zM64.8,171.4h0.60v0.60h-0.60zM60.7,169.5h0.60v0.60h-0.60zM66.0,167.3h0.60v0.60h-0.60zM63.8,166.6h0.60v0.60h-0.60zM62.6,171.4h0.60v0.60h-0.60zM68.8,169.6h0.60v0.60h-0.60zM64.8,167.6h0.60v0.60h-0.60zM75.1,169.9h0.60v0.60h-0.60zM71.5,167.8h0.60v0.60h-0.60zM65.1,166.8h0.60v0.60h-0.60zM69.9,171.3h0.60v0.60h-0.60zM56.5,171.0h0.60v0.60h-0.60zM69.2,166.4h0.60v0.60h-0.60zM56.9,169.1h0.60v0.60h-0.60zM62.9,167.8h0.60v0.60h-0.60zM66.2,170.4h0.60v0.60h-0.60zM69.2,170.9h0.60v0.60h-0.60zM73.5,171.3h0.60v0.60h-0.60zM59.4,169.8h0.60v0.60h-0.60zM60.7,168.7h0.60v0.60h-0.60zM65.6,170.1h0.60v0.60h-0.60zM68.5,166.8h0.60v0.60h-0.60zM59.8,170.7h0.60v0.60h-0.60zM65.0,169.5h0.60v0.60h-0.60zM65.7,168.7h0.60v0.60h-0.60zM69.5,170.2h0.60v0.60h-0.60zM65.6,168.8h0.60v0.60h-0.60zM65.1,165.2h0.60v0.60h-0.60zM61.1,170.6h0.60v0.60h-0.60zM58.5,171.2h0.60v0.60h-0.60zM66.7,167.4h0.60v0.60h-0.60zM64.7,169.6h0.60v0.60h-0.60zM68.3,170.8h0.60v0.60h-0.60zM65.8,168.5h0.60v0.60h-0.60zM65.3,170.0h0.60v0.60h-0.60zM69.7,170.1h0.60v0.60h-0.60zM62.4,168.0h0.60v0.60h-0.60zM64.1,168.9h0.60v0.60h-0.60zM60.4,170.4h0.60v0.60h-0.60zM63.5,170.5h0.60v0.60h-0.60zM68.6,169.0h0.60v0.60h-0.60zM77.6,168.1h0.60v0.60h-0.60zM71.5,169.6h0.60v0.60h-0.60zM71.6,165.1h0.60v0.60h-0.60zM62.2,170.9h0.60v0.60h-0.60zM69.0,173.9h0.60v0.60h-0.60zM67.6,172.1h0.60v0.60h-0.60zM69.8,171.3h0.60v0.60h-0.60zM68.6,169.4h0.60v0.60h-0.60zM68.5,167.8h0.60v0.60h-0.60zM71.9,167.5h0.60v0.60h-0.60zM67.2,173.7h0.60v0.60h-0.60zM64.9,170.2h0.60v0.60h-0.60zM71.8,169.4h0.60v0.60h-0.60zM62.0,170.9h0.60v0.60h-0.60zM68.9,171.0h0.60v0.60h-0.60zM62.1,173.6h0.60v0.60h-0.60zM74.3,169.1h0.60v0.60h-0.60zM67.3,169.1h0.60v0.60h-0.60zM73.1,167.9h0.60v0.60h-0.60zM69.4,168.7h0.60v0.60h-0.60zM62.5,171.7h0.60v0.60h-0.60zM72.7,169.2h0.60v0.60h-0.60zM62.6,171.9h0.60v0.60h-0.60zM65.8,170.6h0.60v0.60h-0.60zM73.6,171.2h0.60v0.60h-0.60zM63.4,174.4h0.60v0.60h-0.60zM66.0,171.4h0.60v0.60h-0.60zM62.8,170.3h0.60v0.60h-0.60zM57.3,174.2h0.60v0.60h-0.60zM72.8,167.0h0.60v0.60h-0.60zM58.5,167.9h0.60v0.60h-0.60zM71.9,168.5h0.60v0.60h-0.60z" fill="#444" opacity="1"/>
<path d="M86.0,188.2h0.66v0.66h-0.66zM85.9,186.2h0.66v0.66h-0.66zM86.0,185.3h0.66v0.66h-0.66zM85.9,189.8h0.66v0.66h-0.66zM86.3,188.4h0.66v0.66h-0.66zM85.4,189.4h0.66v0.66h-0.66zM85.7,193.1h0.66v0.66h-0.66zM86.5,188.7h0.66v0.66h-0.66zM85.7,187.2h0.66v0.66h-0.66zM85.3,188.1h0.66v0.66h-0.66zM86.2,190.3h0.66v0.66h-0.66zM86.4,194.5h0.66v0.66h-0.66zM85.5,189.0h0.66v0.66h-0.66zM88.0,184.1h0.66v0.66h-0.66zM85.6,189.4h0.66v0.66h-0.66zM86.1,190.1h0.66v0.66h-0.66zM85.8,190.0h0.66v0.66h-0.66zM86.0,191.0h0.66v0.66h-0.66zM84.7,186.7h0.66v0.66h-0.66zM86.0,186.3h0.66v0.66h-0.66zM85.3,190.6h0.66v0.66h-0.66zM85.5,190.7h0.66v0.66h-0.66zM86.5,189.8h0.66v0.66h-0.66zM86.4,188.7h0.66v0.66h-0.66zM85.0,188.9h0.66v0.66h-0.66zM86.3,187.6h0.66v0.66h-0.66zM85.9,190.9h0.66v0.66h-0.66zM85.4,190.7h0.66v0.66h-0.66zM87.3,187.6h0.66v0.66h-0.66zM86.1,188.6h0.66v0.66h-0.66zM87.1,189.8h0.66v0.66h-0.66zM86.6,187.2h0.66v0.66h-0.66zM86.0,189.0h0.66v0.66h-0.66zM84.8,192.7h0.66v0.66h-0.66zM86.6,184.5h0.66v0.66h-0.66zM86.5,188.7h0.66v0.66h-0.66zM86.3,190.0h0.66v0.66h-0.66zM85.0,188.4h0.66v0.66h-0.66zM87.0,187.5h0.66v0.66h-0.66zM85.3,185.5h0.66v0.66h-0.66zM85.1,189.9h0.66v0.66h-0.66zM87.2,190.1h0.66v0.66h-0.66zM86.2,194.8h0.66v0.66h-0.66zM85.6,187.2h0.66v0.66h-0.66zM86.4,190.4h0.66v0.66h-0.66zM85.3,186.0h0.66v0.66h-0.66zM86.2,189.6h0.66v0.66h-0.66zM85.1,188.5h0.66v0.66h-0.66zM85.6,190.2h0.66v0.66h-0.66zM85.9,188.8h0.66v0.66h-0.66zM85.8,191.7h0.66v0.66h-0.66zM87.0,188.0h0.66v0.66h-0.66zM86.6,187.0h0.66v0.66h-0.66zM86.1,190.9h0.66v0.66h-0.66zM87.1,188.0h0.66v0.66h-0.66zM85.9,189.5h0.66v0.66h-0.66zM85.0,189.0h0.66v0.66h-0.66zM85.5,190.0h0.66v0.66h-0.66zM85.2,183.9h0.66v0.66h-0.66zM86.0,189.7h0.66v0.66h-0.66zM85.6,191.3h0.66v0.66h-0.66zM85.8,187.4h0.66v0.66h-0.66zM86.3,184.9h0.66v0.66h-0.66zM85.5,188.9h0.66v0.66h-0.66zM86.6,188.6h0.66v0.66h-0.66zM86.2,187.3h0.66v0.66h-0.66zM86.2,193.3h0.66v0.66h-0.66zM85.5,195.2h0.66v0.66h-0.66zM85.5,189.0h0.66v0.66h-0.66zM86.1,191.7h0.66v0.66h-0.66zM85.1,183.5h0.66v0.66h-0.66zM86.4,191.1h0.66v0.66h-0.66zM86.4,195.8h0.66v0.66h-0.66zM86.1,189.7h0.66v0.66h-0.66zM86.7,190.0h0.66v0.66h-0.66zM87.2,185.8h0.66v0.66h-0.66zM85.7,180.0h0.66v0.66h-0.66zM86.6,188.0h0.66v0.66h-0.66zM86.6,194.6h0.66v0.66h-0.66zM86.0,188.3h0.66v0.66h-0.66zM85.7,186.8h0.66v0.66h-0.66zM85.6,190.7h0.66v0.66h-0.66zM86.0,189.2h0.66v0.66h-0.66zM85.9,191.4h0.66v0.66h-0.66zM86.3,188.6h0.66v0.66h-0.66zM86.5,188.6h0.66v0.66h-0.66zM85.2,192.8h0.66v0.66h-0.66zM86.3,186.5h0.66v0.66h-0.66zM86.8,189.9h0.66v0.66h-0.66zM84.9,193.2h0.66v0.66h-0.66zM86.2,191.3h0.66v0.66h-0.66zM86.1,188.6h0.66v0.66h-0.66zM84.9,191.5h0.66v0.66h-0.66zM86.0,188.3h0.66v0.66h-0.66zM86.2,189.2h0.66v0.66h-0.66zM86.5,188.0h0.66v0.66h-0.66zM86.0,183.4h0.66v0.66h-0.66zM85.7,190.8h0.66v0.66h-0.66zM86.9,188.1h0.66v0.66h-0.66zM85.9,193.1h0.66v0.66h-0.66zM85.8,190.9h0.66v0.66h-0.66zM87.2,189.1h0.66v0.66h-0.66zM86.9,187.2h0.66v0.66h-0.66zM86.1,188.8h0.66v0.66h-0.66zM86.1,191.9h0.66v0.66h-0.66zM87.7,187.3h0.66v0.66h-0.66zM85.6,190.3h0.66v0.66h-0.66zM85.3,190.3h0.66v0.66h-0.66zM86.4,188.3h0.66v0.66h-0.66zM86.4,185.0h0.66v0.66h-0.66z" fill="#111" opacity="1"/>
<path d="M87.2,181.9h0.54v0.54h-0.54zM84.9,186.4h0.54v0.54h-0.54zM85.4,193.0h0.54v0.54h-0.54zM86.1,187.2h0.54v0.54h-0.54zM86.9,196.3h0.54v0.54h-0.54zM86.0,190.7h0.54v0.54h-0.54zM88.0,190.2h0.54v0.54h-0.54zM83.9,200.5h0.54v0.54h-0.54zM89.5,179.9h0.54v0.54h-0.54zM85.9,190.9h0.54v0.54h-0.54zM87.5,192.1h0.54v0.54h-0.54zM85.6,184.2h0.54v0.54h-0.54zM86.2,193.8h0.54v0.54h-0.54zM84.3,184.3h0.54v0.54h-0.54zM86.0,180.1h0.54v0.54h-0.54zM85.6,187.0h0.54v0.54h-0.54zM86.7,185.8h0.54v0.54h-0.54zM84.6,187.2h0.54v0.54h-0.54zM85.9,185.9h0.54v0.54h-0.54zM86.0,192.5h0.54v0.54h-0.54zM87.9,196.8h0.54v0.54h-0.54zM84.7,187.1h0.54v0.54h-0.54zM82.0,197.7h0.54v0.54h-0.54zM84.8,188.8h0.54v0.54h-0.54zM86.8,182.8h0.54v0.54h-0.54zM86.7,188.9h0.54v0.54h-0.54zM83.1,190.3h0.54v0.54h-0.54zM87.9,180.4h0.54v0.54h-0.54zM87.3,190.0h0.54v0.54h-0.54zM86.8,191.0h0.54v0.54h-0.54zM88.1,188.0h0.54v0.54h-0.54zM87.4,187.1h0.54v0.54h-0.54zM87.2,185.3h0.54v0.54h-0.54zM85.8,197.0h0.54v0.54h-0.54zM86.7,188.3h0.54v0.54h-0.54zM84.2,185.4h0.54v0.54h-0.54zM86.3,193.3h0.54v0.54h-0.54zM86.7,191.4h0.54v0.54h-0.54zM85.9,195.2h0.54v0.54h-0.54zM85.4,186.5h0.54v0.54h-0.54zM87.4,189.3h0.54v0.54h-0.54zM85.6,186.3h0.54v0.54h-0.54zM85.6,191.9h0.54v0.54h-0.54zM86.6,183.4h0.54v0.54h-0.54zM86.7,189.8h0.54v0.54h-0.54zM84.4,192.6h0.54v0.54h-0.54zM85.6,187.5h0.54v0.54h-0.54zM87.3,195.1h0.54v0.54h-0.54zM84.9,191.0h0.54v0.54h-0.54zM84.6,199.6h0.54v0.54h-0.54z" fill="#666" opacity="1"/>
<path d="M65.8,201.8h0.52v0.52h-0.52zM64.8,199.3h0.52v0.52h-0.52zM83.4,177.5h0.52v0.52h-0.52zM66.2,197.3h0.52v0.52h-0.52zM68.4,189.7h0.52v0.52h-0.52zM83.0,194.5h0.52v0.52h-0.52zM58.3,199.6h0.52v0.52h-0.52zM57.8,201.5h0.52v0.52h-0.52zM65.2,194.9h0.52v0.52h-0.52zM77.2,194.8h0.52v0.52h-0.52zM60.0,183.0h0.52v0.52h-0.52zM76.7,198.8h0.52v0.52h-0.52zM63.7,199.6h0.52v0.52h-0.52zM72.2,198.2h0.52v0.52h-0.52zM54.3,192.0h0.52v0.52h-0.52zM74.9,198.8h0.52v0.52h-0.52zM74.7,178.0h0.52v0.52h-0.52zM70.1,197.2h0.52v0.52h-0.52zM85.6,187.8h0.52v0.52h-0.52zM66.9,194.2h0.52v0.52h-0.52zM74.8,191.1h0.52v0.52h-0.52zM76.5,188.9h0.52v0.52h-0.52zM70.7,190.6h0.52v0.52h-0.52zM70.0,189.5h0.52v0.52h-0.52zM58.6,201.1h0.52v0.52h-0.52zM71.0,190.4h0.52v0.52h-0.52zM70.3,200.4h0.52v0.52h-0.52zM62.6,193.3h0.52v0.52h-0.52zM72.5,197.4h0.52v0.52h-0.52zM66.8,180.3h0.52v0.52h-0.52zM77.1,196.1h0.52v0.52h-0.52zM69.1,192.2h0.52v0.52h-0.52zM70.7,191.2h0.52v0.52h-0.52zM62.3,189.2h0.52v0.52h-0.52zM65.1,190.0h0.52v0.52h-0.52zM61.5,198.1h0.52v0.52h-0.52zM60.5,198.3h0.52v0.52h-0.52zM62.4,196.3h0.52v0.52h-0.52zM77.9,195.3h0.52v0.52h-0.52zM64.2,194.3h0.52v0.52h-0.52zM70.0,182.7h0.52v0.52h-0.52zM65.1,195.1h0.52v0.52h-0.52zM66.0,194.5h0.52v0.52h-0.52zM73.8,199.0h0.52v0.52h-0.52zM74.9,197.8h0.52v0.52h-0.52zM67.1,193.9h0.52v0.52h-0.52zM67.2,192.0h0.52v0.52h-0.52zM67.8,182.8h0.52v0.52h-0.52zM66.8,193.8h0.52v0.52h-0.52zM62.7,193.8h0.52v0.52h-0.52zM72.4,192.9h0.52v0.52h-0.52zM82.5,177.1h0.52v0.52h-0.52zM67.7,182.1h0.52v0.52h-0.52zM52.7,194.8h0.52v0.52h-0.52zM72.4,192.0h0.52v0.52h-0.52zM72.6,179.4h0.52v0.52h-0.52zM74.5,196.4h0.52v0.52h-0.52zM69.1,190.2h0.52v0.52h-0.52zM73.1,190.8h0.52v0.52h-0.52zM70.5,190.7h0.52v0.52h-0.52zM54.4,193.8h0.52v0.52h-0.52zM70.3,198.9h0.52v0.52h-0.52zM63.3,193.8h0.52v0.52h-0.52zM73.0,194.9h0.52v0.52h-0.52zM77.1,206.9h0.52v0.52h-0.52zM63.1,181.5h0.52v0.52h-0.52zM74.6,203.9h0.52v0.52h-0.52zM75.0,199.3h0.52v0.52h-0.52zM65.0,189.4h0.52v0.52h-0.52zM74.8,188.1h0.52v0.52h-0.52zM57.2,187.5h0.52v0.52h-0.52zM85.2,206.5h0.52v0.52h-0.52zM64.5,189.3h0.52v0.52h-0.52zM70.5,189.1h0.52v0.52h-0.52zM77.5,193.5h0.52v0.52h-0.52zM61.9,202.5h0.52v0.52h-0.52zM65.2,195.4h0.52v0.52h-0.52zM68.9,192.0h0.52v0.52h-0.52zM71.1,189.5h0.52v0.52h-0.52zM57.0,179.6h0.52v0.52h-0.52zM60.8,189.1h0.52v0.52h-0.52zM68.9,194.4h0.52v0.52h-0.52zM72.6,194.8h0.52v0.52h-0.52zM63.8,189.4h0.52v0.52h-0.52zM55.2,192.9h0.52v0.52h-0.52zM72.2,197.4h0.52v0.52h-0.52zM68.2,192.9h0.52v0.52h-0.52zM75.1,194.1h0.52v0.52h-0.52zM73.8,197.8h0.52v0.52h-0.52zM70.4,202.5h0.52v0.52h-0.52zM65.3,191.7h0.52v0.52h-0.52zM63.7,188.8h0.52v0.52h-0.52zM79.1,205.4h0.52v0.52h-0.52zM69.1,197.7h0.52v0.52h-0.52zM76.6,199.2h0.52v0.52h-0.52zM76.8,185.8h0.52v0.52h-0.52zM64.8,196.9h0.52v0.52h-0.52zM78.3,194.7h0.52v0.52h-0.52zM63.4,191.7h0.52v0.52h-0.52zM64.7,188.4h0.52v0.52h-0.52zM78.8,189.9h0.52v0.52h-0.52zM69.1,208.1h0.52v0.52h-0.52zM76.7,196.2h0.52v0.52h-0.52zM65.0,196.7h0.52v0.52h-0.52zM79.5,198.0h0.52v0.52h-0.52zM77.2,194.6h0.52v0.52h-0.52zM72.4,192.7h0.52v0.52h-0.52zM71.8,202.5h0.52v0.52h-0.52zM59.7,193.6h0.52v0.52h-0.52zM70.6,190.3h0.52v0.52h-0.52zM67.0,199.1h0.52v0.52h-0.52zM82.0,198.1h0.52v0.52h-0.52zM71.1,183.9h0.52v0.52h-0.52zM81.5,194.5h0.52v0.52h-0.52zM68.8,186.7h0.52v0.52h-0.52zM68.6,186.9h0.52v0.52h-0.52zM69.5,197.0h0.52v0.52h-0.52zM69.2,195.8h0.52v0.52h-0.52zM63.5,203.3h0.52v0.52h-0.52z" fill="#999" opacity="1"/>
<path d="M56.1,161.1h0.50v0.50h-0.50zM58.9,167.4h0.50v0.50h-0.50zM53.9,169.9h0.50v0.50h-0.50zM61.7,164.9h0.50v0.50h-0.50zM59.2,180.6h0.50v0.50h-0.50zM64.1,171.1h0.50v0.50h-0.50zM60.8,171.3h0.50v0.50h-0.50zM59.7,176.4h0.50v0.50h-0.50zM59.4,157.6h0.50v0.50h-0.50zM59.9,166.7h0.50v0.50h-0.50zM63.9,168.3h0.50v0.50h-0.50zM60.9,185.1h0.50v0.50h-0.50zM53.7,165.3h0.50v0.50h-0.50zM51.5,157.6h0.50v0.50h-0.50zM48.7,174.2h0.50v0.50h-0.50zM56.2,160.8h0.50v0.50h-0.50zM51.1,175.7h0.50v0.50h-0.50zM55.3,169.8h0.50v0.50h-0.50zM62.0,180.1h0.50v0.50h-0.50zM71.6,178.2h0.50v0.50h-0.50zM60.9,173.1h0.50v0.50h-0.50zM70.8,180.6h0.50v0.50h-0.50zM58.1,174.7h0.50v0.50h-0.50zM61.7,172.3h0.50v0.50h-0.50zM57.0,164.0h0.50v0.50h-0.50zM56.8,162.7h0.50v0.50h-0.50zM67.3,175.2h0.50v0.50h-0.50zM52.8,180.4h0.50v0.50h-0.50zM65.4,160.5h0.50v0.50h-0.50zM71.0,176.9h0.50v0.50h-0.50z" fill="#999" opacity="1"/>
<rect x="48.4" y="159.6" width="28.6" height="17.2" fill="none" stroke="#000" stroke-width="1.3" />
<rect x="155" y="146.4" width="76" height="64.6" fill="none" stroke="#555" stroke-width="0.6" />
<text x="193.3" y="140.0" font-family="Liberation Sans" font-size="5.1" text-anchor="middle" font-weight="normal" font-style="normal" fill="#333" >Ex vivo Day5- CD8-iso</text>
<text x="193.3" y="144.8" font-family="Liberation Sans" font-size="5.1" text-anchor="middle" font-weight="normal" font-style="normal" fill="#333" >Gate: (P2 in all)</text>
<line x1="178.3" y1="146.4" x2="178.3" y2="211" stroke="#555" stroke-width="0.5" />
<text x="155.6" y="150.0" font-family="Liberation Sans" font-size="4.7" text-anchor="start" font-weight="normal" font-style="normal" fill="#333" >V2-L</text>
<text x="155.6" y="154.2" font-family="Liberation Sans" font-size="4.7" text-anchor="start" font-weight="normal" font-style="normal" fill="#333" >98.0%</text>
<text x="230" y="150.0" font-family="Liberation Sans" font-size="4.7" text-anchor="end" font-weight="normal" font-style="normal" fill="#333" >V2-R</text>
<text x="230" y="154.2" font-family="Liberation Sans" font-size="4.7" text-anchor="end" font-weight="normal" font-style="normal" fill="#333" >2.0%</text>
<path d="M156.4,211.0 L156.4,209.7 L156.9,210.3 L157.4,210.2 L157.9,209.6 L158.4,209.3 L158.9,208.9 L159.4,208.9 L159.9,207.9 L160.4,207.9 L160.9,207.8 L161.4,206.9 L161.9,206.3 L162.4,204.6 L162.9,204.2 L163.4,205.5 L163.9,204.0 L164.4,203.6 L164.9,202.4 L165.4,200.6 L165.9,199.8 L166.4,202.1 L166.9,198.0 L167.4,200.2 L167.9,196.4 L168.4,196.4 L168.9,193.4 L169.4,191.6 L169.9,188.7 L170.4,181.8 L170.9,184.9 L171.4,182.9 L171.9,173.3 L172.4,172.9 L172.9,175.9 L173.4,170.7 L173.9,173.2 L174.4,184.1 L174.9,180.6 L175.4,189.3 L175.9,193.8 L176.4,195.3 L176.9,197.4 L177.4,201.7 L177.9,204.3 L178.4,204.8 L178.9,207.1 L179.4,207.4 L179.9,208.9 L180.4,209.0 L180.9,209.9 L181.4,209.8 L181.9,210.4 L182.4,210.2 L182.5,211.0 Z" fill="#000" stroke="none" stroke-width="1" />
<line x1="155.4" y1="211" x2="155.4" y2="212.8" stroke="#222" stroke-width="0.6" />
<text x="153.8" y="216.6" font-family="Liberation Sans" font-size="3.3" text-anchor="start" font-weight="bold" font-style="normal" fill="#111" >10</text>
<text x="157.20000000000002" y="214.8" font-family="Liberation Sans" font-size="2.6" text-anchor="start" font-weight="bold" font-style="normal" fill="#111" >1</text>
<line x1="167.9" y1="211" x2="167.9" y2="212.8" stroke="#222" stroke-width="0.6" />
<text x="166.3" y="216.6" font-family="Liberation Sans" font-size="3.3" text-anchor="start" font-weight="bold" font-style="normal" fill="#111" >10</text>
<text x="169.70000000000002" y="214.8" font-family="Liberation Sans" font-size="2.6" text-anchor="start" font-weight="bold" font-style="normal" fill="#111" >2</text>
<line x1="180.4" y1="211" x2="180.4" y2="212.8" stroke="#222" stroke-width="0.6" />
<text x="178.8" y="216.6" font-family="Liberation Sans" font-size="3.3" text-anchor="start" font-weight="bold" font-style="normal" fill="#111" >10</text>
<text x="182.20000000000002" y="214.8" font-family="Liberation Sans" font-size="2.6" text-anchor="start" font-weight="bold" font-style="normal" fill="#111" >3</text>
<line x1="192.9" y1="211" x2="192.9" y2="212.8" stroke="#222" stroke-width="0.6" />
<text x="191.3" y="216.6" font-family="Liberation Sans" font-size="3.3" text-anchor="start" font-weight="bold" font-style="normal" fill="#111" >10</text>
<text x="194.70000000000002" y="214.8" font-family="Liberation Sans" font-size="2.6" text-anchor="start" font-weight="bold" font-style="normal" fill="#111" >4</text>
<line x1="205.4" y1="211" x2="205.4" y2="212.8" stroke="#222" stroke-width="0.6" />
<text x="203.8" y="216.6" font-family="Liberation Sans" font-size="3.3" text-anchor="start" font-weight="bold" font-style="normal" fill="#111" >10</text>
<text x="207.20000000000002" y="214.8" font-family="Liberation Sans" font-size="2.6" text-anchor="start" font-weight="bold" font-style="normal" fill="#111" >5</text>
<line x1="217.9" y1="211" x2="217.9" y2="212.8" stroke="#222" stroke-width="0.6" />
<text x="216.3" y="216.6" font-family="Liberation Sans" font-size="3.3" text-anchor="start" font-weight="bold" font-style="normal" fill="#111" >10</text>
<text x="219.70000000000002" y="214.8" font-family="Liberation Sans" font-size="2.6" text-anchor="start" font-weight="bold" font-style="normal" fill="#111" >6</text>
<line x1="230.4" y1="211" x2="230.4" y2="212.8" stroke="#222" stroke-width="0.6" />
<text x="228.8" y="216.6" font-family="Liberation Sans" font-size="3.3" text-anchor="start" font-weight="bold" font-style="normal" fill="#111" >10</text>
<text x="232.20000000000002" y="214.8" font-family="Liberation Sans" font-size="2.6" text-anchor="start" font-weight="bold" font-style="normal" fill="#111" >7</text>
<line x1="158.6" y1="211" x2="158.6" y2="211.9" stroke="#555" stroke-width="0.3" />
<line x1="160.8" y1="211" x2="160.8" y2="211.9" stroke="#555" stroke-width="0.3" />
<line x1="162.3" y1="211" x2="162.3" y2="211.9" stroke="#555" stroke-width="0.3" />
<line x1="163.5" y1="211" x2="163.5" y2="211.9" stroke="#555" stroke-width="0.3" />
<line x1="164.5" y1="211" x2="164.5" y2="211.9" stroke="#555" stroke-width="0.3" />
<line x1="165.3" y1="211" x2="165.3" y2="211.9" stroke="#555" stroke-width="0.3" />
<line x1="166.0" y1="211" x2="166.0" y2="211.9" stroke="#555" stroke-width="0.3" />
<line x1="166.6" y1="211" x2="166.6" y2="211.9" stroke="#555" stroke-width="0.3" />
<line x1="171.1" y1="211" x2="171.1" y2="211.9" stroke="#555" stroke-width="0.3" />
<line x1="173.3" y1="211" x2="173.3" y2="211.9" stroke="#555" stroke-width="0.3" />
<line x1="174.8" y1="211" x2="174.8" y2="211.9" stroke="#555" stroke-width="0.3" />
<line x1="176.0" y1="211" x2="176.0" y2="211.9" stroke="#555" stroke-width="0.3" />
<line x1="177.0" y1="211" x2="177.0" y2="211.9" stroke="#555" stroke-width="0.3" />
<line x1="177.8" y1="211" x2="177.8" y2="211.9" stroke="#555" stroke-width="0.3" />
<line x1="178.5" y1="211" x2="178.5" y2="211.9" stroke="#555" stroke-width="0.3" />
<line x1="179.1" y1="211" x2="179.1" y2="211.9" stroke="#555" stroke-width="0.3" />
<line x1="183.6" y1="211" x2="183.6" y2="211.9" stroke="#555" stroke-width="0.3" />
<line x1="185.8" y1="211" x2="185.8" y2="211.9" stroke="#555" stroke-width="0.3" />
<line x1="187.3" y1="211" x2="187.3" y2="211.9" stroke="#555" stroke-width="0.3" />
<line x1="188.5" y1="211" x2="188.5" y2="211.9" stroke="#555" stroke-width="0.3" />
<line x1="189.5" y1="211" x2="189.5" y2="211.9" stroke="#555" stroke-width="0.3" />
<line x1="190.3" y1="211" x2="190.3" y2="211.9" stroke="#555" stroke-width="0.3" />
<line x1="191.0" y1="211" x2="191.0" y2="211.9" stroke="#555" stroke-width="0.3" />
<line x1="191.6" y1="211" x2="191.6" y2="211.9" stroke="#555" stroke-width="0.3" />
<line x1="196.1" y1="211" x2="196.1" y2="211.9" stroke="#555" stroke-width="0.3" />
<line x1="198.3" y1="211" x2="198.3" y2="211.9" stroke="#555" stroke-width="0.3" />
<line x1="199.8" y1="211" x2="199.8" y2="211.9" stroke="#555" stroke-width="0.3" />
<line x1="201.0" y1="211" x2="201.0" y2="211.9" stroke="#555" stroke-width="0.3" />
<line x1="202.0" y1="211" x2="202.0" y2="211.9" stroke="#555" stroke-width="0.3" />
<line x1="202.8" y1="211" x2="202.8" y2="211.9" stroke="#555" stroke-width="0.3" />
<line x1="203.5" y1="211" x2="203.5" y2="211.9" stroke="#555" stroke-width="0.3" />
<line x1="204.1" y1="211" x2="204.1" y2="211.9" stroke="#555" stroke-width="0.3" />
<line x1="208.6" y1="211" x2="208.6" y2="211.9" stroke="#555" stroke-width="0.3" />
<line x1="210.8" y1="211" x2="210.8" y2="211.9" stroke="#555" stroke-width="0.3" />
<line x1="212.3" y1="211" x2="212.3" y2="211.9" stroke="#555" stroke-width="0.3" />
<line x1="213.5" y1="211" x2="213.5" y2="211.9" stroke="#555" stroke-width="0.3" />
<line x1="214.5" y1="211" x2="214.5" y2="211.9" stroke="#555" stroke-width="0.3" />
<line x1="215.3" y1="211" x2="215.3" y2="211.9" stroke="#555" stroke-width="0.3" />
<line x1="216.0" y1="211" x2="216.0" y2="211.9" stroke="#555" stroke-width="0.3" />
<line x1="216.6" y1="211" x2="216.6" y2="211.9" stroke="#555" stroke-width="0.3" />
<line x1="221.1" y1="211" x2="221.1" y2="211.9" stroke="#555" stroke-width="0.3" />
<line x1="223.3" y1="211" x2="223.3" y2="211.9" stroke="#555" stroke-width="0.3" />
<line x1="224.8" y1="211" x2="224.8" y2="211.9" stroke="#555" stroke-width="0.3" />
<line x1="226.0" y1="211" x2="226.0" y2="211.9" stroke="#555" stroke-width="0.3" />
<line x1="227.0" y1="211" x2="227.0" y2="211.9" stroke="#555" stroke-width="0.3" />
<line x1="227.8" y1="211" x2="227.8" y2="211.9" stroke="#555" stroke-width="0.3" />
<line x1="228.5" y1="211" x2="228.5" y2="211.9" stroke="#555" stroke-width="0.3" />
<line x1="229.1" y1="211" x2="229.1" y2="211.9" stroke="#555" stroke-width="0.3" />
<line x1="153" y1="211" x2="155" y2="211" stroke="#222" stroke-width="0.6" />
<text x="152.4" y="211.5" font-family="Liberation Sans" font-size="3.3" text-anchor="end" font-weight="bold" font-style="normal" fill="#111" >0</text>
<line x1="153" y1="178.7" x2="155" y2="178.7" stroke="#222" stroke-width="0.6" />
<text x="152.4" y="179.2" font-family="Liberation Sans" font-size="3.3" text-anchor="end" font-weight="bold" font-style="normal" fill="#111" >50</text>
<line x1="153" y1="146.8" x2="155" y2="146.8" stroke="#222" stroke-width="0.6" />
<text x="152.4" y="147.3" font-family="Liberation Sans" font-size="3.3" text-anchor="end" font-weight="bold" font-style="normal" fill="#111" >100</text>
<text x="193.6" y="222.0" font-family="Liberation Sans" font-size="4.4" text-anchor="middle" font-weight="normal" font-style="normal" fill="#333" >Tetramer-A</text>
<text x="145.8" y="187" font-family="Liberation Sans" font-size="4.4" text-anchor="middle" font-weight="normal" font-style="normal" fill="#333" transform="rotate(-90 145.8 187)" >Count</text>
<rect x="258" y="146.2" width="77" height="65.0" fill="none" stroke="#555" stroke-width="0.6" />
<text x="296" y="140.0" font-family="Liberation Sans" font-size="5.1" text-anchor="middle" font-weight="normal" font-style="normal" fill="#333" >Ex vivo Day5- CD8-Tet 100</text>
<text x="296" y="144.8" font-family="Liberation Sans" font-size="5.1" text-anchor="middle" font-weight="normal" font-style="normal" fill="#333" >Gate: (P2 in all)</text>
<line x1="281.3" y1="146.2" x2="281.3" y2="211.2" stroke="#555" stroke-width="0.5" />
<text x="259" y="150.0" font-family="Liberation Sans" font-size="4.7" text-anchor="start" font-weight="normal" font-style="normal" fill="#333" >V2-L</text>
<text x="259" y="154.2" font-family="Liberation Sans" font-size="4.7" text-anchor="start" font-weight="normal" font-style="normal" fill="#333" >84.4%</text>
<text x="334" y="150.0" font-family="Liberation Sans" font-size="4.7" text-anchor="end" font-weight="normal" font-style="normal" fill="#333" >V2-R</text>
<text x="334" y="154.2" font-family="Liberation Sans" font-size="4.7" text-anchor="end" font-weight="normal" font-style="normal" fill="#333" >15.6%</text>
<path d="M258.8,211.2 L258.8,210.5 L259.3,210.4 L259.8,209.6 L260.3,209.9 L260.8,209.9 L261.3,208.2 L261.8,208.2 L262.3,208.9 L262.8,208.8 L263.3,207.6 L263.8,207.2 L264.3,205.7 L264.8,205.5 L265.3,207.1 L265.8,205.5 L266.3,202.4 L266.8,203.6 L267.3,203.8 L267.8,201.3 L268.3,200.1 L268.8,198.7 L269.3,199.4 L269.8,201.4 L270.3,202.7 L270.8,195.1 L271.3,195.4 L271.8,196.3 L272.3,191.9 L272.8,188.5 L273.3,193.8 L273.8,179.3 L274.3,181.3 L274.8,189.2 L275.3,183.6 L275.8,158.3 L276.3,182.7 L276.8,169.3 L277.3,171.8 L277.8,166.1 L278.3,181.2 L278.8,189.5 L279.3,189.7 L279.8,197.4 L280.3,197.1 L280.8,200.5 L281.3,204.3 L281.8,202.1 L282.3,202.9 L282.8,203.6 L283.3,197.4 L283.8,202.3 L284.3,199.9 L284.8,202.0 L285.3,195.2 L285.8,199.1 L286.3,202.2 L286.8,202.4 L287.3,200.8 L287.8,204.5 L288.3,205.4 L288.8,205.3 L289.3,206.1 L289.8,207.9 L290.3,208.0 L290.8,209.2 L291.3,208.6 L291.8,208.7 L292.3,208.6 L292.8,208.4 L293.3,208.2 L293.8,209.9 L294.3,209.1 L294.8,210.0 L295.3,210.0 L295.8,209.9 L296.3,210.5 L296.8,210.6 L297.3,210.1 L297.8,210.6 L298.3,210.1 L298.8,210.0 L299.3,210.1 L299.8,210.0 L300.3,210.0 L300.8,210.1 L301.3,210.1 L301.8,210.0 L302.0,211.2 Z" fill="#000" stroke="none" stroke-width="1" />
<line x1="258.4" y1="211.2" x2="258.4" y2="213.0" stroke="#222" stroke-width="0.6" />
<text x="256.79999999999995" y="216.8" font-family="Liberation Sans" font-size="3.3" text-anchor="start" font-weight="bold" font-style="normal" fill="#111" >10</text>
<text x="260.2" y="215.0" font-family="Liberation Sans" font-size="2.6" text-anchor="start" font-weight="bold" font-style="normal" fill="#111" >1</text>
<line x1="271.06666666666666" y1="211.2" x2="271.06666666666666" y2="213.0" stroke="#222" stroke-width="0.6" />
<text x="269.46666666666664" y="216.8" font-family="Liberation Sans" font-size="3.3" text-anchor="start" font-weight="bold" font-style="normal" fill="#111" >10</text>
<text x="272.8666666666667" y="215.0" font-family="Liberation Sans" font-size="2.6" text-anchor="start" font-weight="bold" font-style="normal" fill="#111" >2</text>
<line x1="283.7333333333333" y1="211.2" x2="283.7333333333333" y2="213.0" stroke="#222" stroke-width="0.6" />
<text x="282.13333333333327" y="216.8" font-family="Liberation Sans" font-size="3.3" text-anchor="start" font-weight="bold" font-style="normal" fill="#111" >10</text>
<text x="285.5333333333333" y="215.0" font-family="Liberation Sans" font-size="2.6" text-anchor="start" font-weight="bold" font-style="normal" fill="#111" >3</text>
<line x1="296.4" y1="211.2" x2="296.4" y2="213.0" stroke="#222" stroke-width="0.6" />
<text x="294.79999999999995" y="216.8" font-family="Liberation Sans" font-size="3.3" text-anchor="start" font-weight="bold" font-style="normal" fill="#111" >10</text>
<text x="298.2" y="215.0" font-family="Liberation Sans" font-size="2.6" text-anchor="start" font-weight="bold" font-style="normal" fill="#111" >4</text>
<line x1="309.06666666666666" y1="211.2" x2="309.06666666666666" y2="213.0" stroke="#222" stroke-width="0.6" />
<text x="307.46666666666664" y="216.8" font-family="Liberation Sans" font-size="3.3" text-anchor="start" font-weight="bold" font-style="normal" fill="#111" >10</text>
<text x="310.8666666666667" y="215.0" font-family="Liberation Sans" font-size="2.6" text-anchor="start" font-weight="bold" font-style="normal" fill="#111" >5</text>
<line x1="321.7333333333333" y1="211.2" x2="321.7333333333333" y2="213.0" stroke="#222" stroke-width="0.6" />
<text x="320.13333333333327" y="216.8" font-family="Liberation Sans" font-size="3.3" text-anchor="start" font-weight="bold" font-style="normal" fill="#111" >10</text>
<text x="323.5333333333333" y="215.0" font-family="Liberation Sans" font-size="2.6" text-anchor="start" font-weight="bold" font-style="normal" fill="#111" >6</text>
<line x1="334.4" y1="211.2" x2="334.4" y2="213.0" stroke="#222" stroke-width="0.6" />
<text x="332.79999999999995" y="216.8" font-family="Liberation Sans" font-size="3.3" text-anchor="start" font-weight="bold" font-style="normal" fill="#111" >10</text>
<text x="336.2" y="215.0" font-family="Liberation Sans" font-size="2.6" text-anchor="start" font-weight="bold" font-style="normal" fill="#111" >7</text>
<line x1="261.6" y1="211.2" x2="261.6" y2="212.1" stroke="#555" stroke-width="0.3" />
<line x1="263.8" y1="211.2" x2="263.8" y2="212.1" stroke="#555" stroke-width="0.3" />
<line x1="265.3" y1="211.2" x2="265.3" y2="212.1" stroke="#555" stroke-width="0.3" />
<line x1="266.5" y1="211.2" x2="266.5" y2="212.1" stroke="#555" stroke-width="0.3" />
<line x1="267.5" y1="211.2" x2="267.5" y2="212.1" stroke="#555" stroke-width="0.3" />
<line x1="268.3" y1="211.2" x2="268.3" y2="212.1" stroke="#555" stroke-width="0.3" />
<line x1="269.0" y1="211.2" x2="269.0" y2="212.1" stroke="#555" stroke-width="0.3" />
<line x1="269.6" y1="211.2" x2="269.6" y2="212.1" stroke="#555" stroke-width="0.3" />
<line x1="274.2666666666667" y1="211.2" x2="274.2666666666667" y2="212.1" stroke="#555" stroke-width="0.3" />
<line x1="276.4666666666667" y1="211.2" x2="276.4666666666667" y2="212.1" stroke="#555" stroke-width="0.3" />
<line x1="277.9666666666667" y1="211.2" x2="277.9666666666667" y2="212.1" stroke="#555" stroke-width="0.3" />
<line x1="279.1666666666667" y1="211.2" x2="279.1666666666667" y2="212.1" stroke="#555" stroke-width="0.3" />
<line x1="280.1666666666667" y1="211.2" x2="280.1666666666667" y2="212.1" stroke="#555" stroke-width="0.3" />
<line x1="280.9666666666667" y1="211.2" x2="280.9666666666667" y2="212.1" stroke="#555" stroke-width="0.3" />
<line x1="281.6666666666667" y1="211.2" x2="281.6666666666667" y2="212.1" stroke="#555" stroke-width="0.3" />
<line x1="282.2666666666667" y1="211.2" x2="282.2666666666667" y2="212.1" stroke="#555" stroke-width="0.3" />
<line x1="286.93333333333334" y1="211.2" x2="286.93333333333334" y2="212.1" stroke="#555" stroke-width="0.3" />
<line x1="289.1333333333333" y1="211.2" x2="289.1333333333333" y2="212.1" stroke="#555" stroke-width="0.3" />
<line x1="290.6333333333333" y1="211.2" x2="290.6333333333333" y2="212.1" stroke="#555" stroke-width="0.3" />
<line x1="291.8333333333333" y1="211.2" x2="291.8333333333333" y2="212.1" stroke="#555" stroke-width="0.3" />
<line x1="292.8333333333333" y1="211.2" x2="292.8333333333333" y2="212.1" stroke="#555" stroke-width="0.3" />
<line x1="293.6333333333333" y1="211.2" x2="293.6333333333333" y2="212.1" stroke="#555" stroke-width="0.3" />
<line x1="294.3333333333333" y1="211.2" x2="294.3333333333333" y2="212.1" stroke="#555" stroke-width="0.3" />
<line x1="294.93333333333334" y1="211.2" x2="294.93333333333334" y2="212.1" stroke="#555" stroke-width="0.3" />
<line x1="299.6" y1="211.2" x2="299.6" y2="212.1" stroke="#555" stroke-width="0.3" />
<line x1="301.8" y1="211.2" x2="301.8" y2="212.1" stroke="#555" stroke-width="0.3" />
<line x1="303.3" y1="211.2" x2="303.3" y2="212.1" stroke="#555" stroke-width="0.3" />
<line x1="304.5" y1="211.2" x2="304.5" y2="212.1" stroke="#555" stroke-width="0.3" />
<line x1="305.5" y1="211.2" x2="305.5" y2="212.1" stroke="#555" stroke-width="0.3" />
<line x1="306.3" y1="211.2" x2="306.3" y2="212.1" stroke="#555" stroke-width="0.3" />
<line x1="307.0" y1="211.2" x2="307.0" y2="212.1" stroke="#555" stroke-width="0.3" />
<line x1="307.6" y1="211.2" x2="307.6" y2="212.1" stroke="#555" stroke-width="0.3" />
<line x1="312.2666666666667" y1="211.2" x2="312.2666666666667" y2="212.1" stroke="#555" stroke-width="0.3" />
<line x1="314.4666666666667" y1="211.2" x2="314.4666666666667" y2="212.1" stroke="#555" stroke-width="0.3" />
<line x1="315.9666666666667" y1="211.2" x2="315.9666666666667" y2="212.1" stroke="#555" stroke-width="0.3" />
<line x1="317.1666666666667" y1="211.2" x2="317.1666666666667" y2="212.1" stroke="#555" stroke-width="0.3" />
<line x1="318.1666666666667" y1="211.2" x2="318.1666666666667" y2="212.1" stroke="#555" stroke-width="0.3" />
<line x1="318.9666666666667" y1="211.2" x2="318.9666666666667" y2="212.1" stroke="#555" stroke-width="0.3" />
<line x1="319.6666666666667" y1="211.2" x2="319.6666666666667" y2="212.1" stroke="#555" stroke-width="0.3" />
<line x1="320.2666666666667" y1="211.2" x2="320.2666666666667" y2="212.1" stroke="#555" stroke-width="0.3" />
<line x1="324.93333333333334" y1="211.2" x2="324.93333333333334" y2="212.1" stroke="#555" stroke-width="0.3" />
<line x1="327.1333333333333" y1="211.2" x2="327.1333333333333" y2="212.1" stroke="#555" stroke-width="0.3" />
<line x1="328.6333333333333" y1="211.2" x2="328.6333333333333" y2="212.1" stroke="#555" stroke-width="0.3" />
<line x1="329.8333333333333" y1="211.2" x2="329.8333333333333" y2="212.1" stroke="#555" stroke-width="0.3" />
<line x1="330.8333333333333" y1="211.2" x2="330.8333333333333" y2="212.1" stroke="#555" stroke-width="0.3" />
<line x1="331.6333333333333" y1="211.2" x2="331.6333333333333" y2="212.1" stroke="#555" stroke-width="0.3" />
<line x1="332.3333333333333" y1="211.2" x2="332.3333333333333" y2="212.1" stroke="#555" stroke-width="0.3" />
<line x1="332.93333333333334" y1="211.2" x2="332.93333333333334" y2="212.1" stroke="#555" stroke-width="0.3" />
<line x1="256" y1="211.2" x2="258" y2="211.2" stroke="#222" stroke-width="0.6" />
<text x="255.4" y="211.7" font-family="Liberation Sans" font-size="3.3" text-anchor="end" font-weight="bold" font-style="normal" fill="#111" >0</text>
<line x1="256" y1="178.7" x2="258" y2="178.7" stroke="#222" stroke-width="0.6" />
<text x="255.4" y="179.2" font-family="Liberation Sans" font-size="3.3" text-anchor="end" font-weight="bold" font-style="normal" fill="#111" >50</text>
<line x1="256" y1="146.6" x2="258" y2="146.6" stroke="#222" stroke-width="0.6" />
<text x="255.4" y="147.1" font-family="Liberation Sans" font-size="3.3" text-anchor="end" font-weight="bold" font-style="normal" fill="#111" >100</text>
<text x="297" y="222.6" font-family="Liberation Sans" font-size="4.4" text-anchor="middle" font-weight="normal" font-style="normal" fill="#333" >Tetramer-A</text>
<text x="247.4" y="187" font-family="Liberation Sans" font-size="4.4" text-anchor="middle" font-weight="normal" font-style="normal" fill="#333" transform="rotate(-90 247.4 187)" >Count</text>
<rect x="285" y="158.8" width="43.8" height="17.4" fill="#fff" stroke="#222" stroke-width="0.8" />
<text x="304.2" y="171.8" font-family="Liberation Serif" font-size="8.8" text-anchor="middle" font-weight="normal" font-style="normal" fill="#111"  stroke="#111" stroke-width="0.18">15.6%</text>
<ellipse cx="297" cy="193.4" rx="16.2" ry="20" fill="none" stroke="#111" stroke-width="1.1"/>
<text x="3" y="247.8" font-family="Liberation Sans" font-size="11.5" text-anchor="start" font-weight="bold" font-style="normal" fill="#000" >C</text>
<line x1="29.7" y1="251.5" x2="29.7" y2="357" stroke="#333" stroke-width="0.9" />
<line x1="28.2" y1="357" x2="124.6" y2="357" stroke="#333" stroke-width="0.9" />
<line x1="28.2" y1="357" x2="30.2" y2="357" stroke="#333" stroke-width="0.6" />
<text x="25.8" y="357" font-family="Liberation Sans" font-size="3.6" text-anchor="middle" font-weight="normal" font-style="normal" fill="#333" transform="rotate(-90 25.8 357)" >0</text>
<line x1="28.2" y1="336" x2="30.2" y2="336" stroke="#333" stroke-width="0.6" />
<text x="25.8" y="336" font-family="Liberation Sans" font-size="3.6" text-anchor="middle" font-weight="normal" font-style="normal" fill="#333" transform="rotate(-90 25.8 336)" >20</text>
<line x1="28.2" y1="315" x2="30.2" y2="315" stroke="#333" stroke-width="0.6" />
<text x="25.8" y="315" font-family="Liberation Sans" font-size="3.6" text-anchor="middle" font-weight="normal" font-style="normal" fill="#333" transform="rotate(-90 25.8 315)" >40</text>
<line x1="28.2" y1="294" x2="30.2" y2="294" stroke="#333" stroke-width="0.6" />
<text x="25.8" y="294" font-family="Liberation Sans" font-size="3.6" text-anchor="middle" font-weight="normal" font-style="normal" fill="#333" transform="rotate(-90 25.8 294)" >60</text>
<line x1="28.2" y1="273" x2="30.2" y2="273" stroke="#333" stroke-width="0.6" />
<text x="25.8" y="273" font-family="Liberation Sans" font-size="3.6" text-anchor="middle" font-weight="normal" font-style="normal" fill="#333" transform="rotate(-90 25.8 273)" >80</text>
<line x1="28.2" y1="252" x2="30.2" y2="252" stroke="#333" stroke-width="0.6" />
<text x="25.8" y="252" font-family="Liberation Sans" font-size="3.6" text-anchor="middle" font-weight="normal" font-style="normal" fill="#333" transform="rotate(-90 25.8 252)" >100</text>
<line x1="30.2" y1="357" x2="30.2" y2="359" stroke="#333" stroke-width="0.6" />
<text x="30.2" y="364.0" font-family="Liberation Sans" font-size="3.6" text-anchor="middle" font-weight="normal" font-style="normal" fill="#555" >0</text>
<line x1="49.04" y1="357" x2="49.04" y2="359" stroke="#333" stroke-width="0.6" />
<text x="49.04" y="364.0" font-family="Liberation Sans" font-size="3.6" text-anchor="middle" font-weight="normal" font-style="normal" fill="#555" >10</text>
<line x1="67.88" y1="357" x2="67.88" y2="359" stroke="#333" stroke-width="0.6" />
<text x="67.88" y="364.0" font-family="Liberation Sans" font-size="3.6" text-anchor="middle" font-weight="normal" font-style="normal" fill="#555" >20</text>
<line x1="86.72" y1="357" x2="86.72" y2="359" stroke="#333" stroke-width="0.6" />
<text x="86.72" y="364.0" font-family="Liberation Sans" font-size="3.6" text-anchor="middle" font-weight="normal" font-style="normal" fill="#555" >30</text>
<line x1="105.56" y1="357" x2="105.56" y2="359" stroke="#333" stroke-width="0.6" />
<text x="105.56" y="364.0" font-family="Liberation Sans" font-size="3.6" text-anchor="middle" font-weight="normal" font-style="normal" fill="#555" >40</text>
<line x1="124.4" y1="357" x2="124.4" y2="359" stroke="#333" stroke-width="0.6" />
<text x="124.4" y="364.0" font-family="Liberation Sans" font-size="3.6" text-anchor="middle" font-weight="normal" font-style="normal" fill="#555" >50</text>
<line x1="30.2" y1="252" x2="123.5" y2="252" stroke="#5a5a5a" stroke-width="1.1" />
<ellipse cx="123.6" cy="252" rx="1.5" ry="2.3" fill="#000"/>
<path d="M42.6,252 L42.6,266" fill="none" stroke="#666" stroke-width="1.2" stroke-dasharray="2.2 1.2"/>
<path d="M44,268 L56,268 L56,274 M57,276 L121.4,276" fill="none" stroke="#1a1a1a" stroke-width="1.5" stroke-dasharray="1.6 1.3"/>
<line x1="121.6" y1="276.4" x2="121.6" y2="280" stroke="#666" stroke-width="1.0" />
<rect x="41.4" y="265.8" width="3.3" height="4.8" fill="#000" stroke="none" stroke-width="1" />
<rect x="54.4" y="273.2" width="3.4" height="5.4" fill="#000" stroke="none" stroke-width="1" />
<rect x="120.3" y="281.8" width="4.8" height="4.8" fill="#000" stroke="none" stroke-width="1" />
<text x="19.8" y="304" font-family="Liberation Sans" font-size="6.6" text-anchor="middle" font-weight="normal" font-style="normal" fill="#333" transform="rotate(-90 19.8 304)" >% Survival</text>
<text x="115.8" y="351.2" font-family="Liberation Serif" font-size="6.4" text-anchor="middle" font-weight="normal" font-style="normal" fill="#111" stroke="none">P=0.09</text>
<text x="84.2" y="376.2" font-family="Liberation Serif" font-size="7.2" text-anchor="middle" font-weight="normal" font-style="normal" fill="#111"  stroke="#111" stroke-width="0.18">Days after BMT</text>
<line x1="15.8" y1="387.3" x2="26.4" y2="387.3" stroke="#000" stroke-width="2.2" />
<line x1="21" y1="384.2" x2="21" y2="390.4" stroke="#000" stroke-width="1.8" />
<text x="35.00" y="386.6" font-family="Liberation Serif" font-size="7.3" fill="#111" stroke="#111" stroke-width="0.18">WT-B6 (</text>
<circle cx="63.22" cy="383.39" r="1.72" fill="none" stroke="#111" stroke-width="0.69"/>
<path d="M63.22,385.10 V387.55 M62.05,386.38 H64.39" fill="none" stroke="#111" stroke-width="0.69"/>
<text x="65.56" y="386.6" font-family="Liberation Serif" font-size="7.3" fill="#111" stroke="#111" stroke-width="0.18">)+ex vivo expanded</text>
<text x="35.00" y="395.6" font-family="Liberation Serif" font-size="7.3" fill="#111" stroke="#111" stroke-width="0.18">CD90</text>
<text x="52.44" y="392.97" font-family="Liberation Serif" font-size="4.53" fill="#111">+</text>
<path d="M55.36,392.86 H59.48 L58.86,391.07 L61.93,393.48 L58.86,395.89 L59.48,394.10 H55.36 Z" fill="#111"/>
<text x="62.15" y="395.6" font-family="Liberation Serif" font-size="7.3" fill="#111" stroke="#111" stroke-width="0.18">B6(</text>
<circle cx="75.43" cy="392.39" r="1.72" fill="none" stroke="#111" stroke-width="0.69"/>
<path d="M75.43,394.10 V396.55 M74.27,395.38 H76.60" fill="none" stroke="#111" stroke-width="0.69"/>
<text x="77.77" y="395.6" font-family="Liberation Serif" font-size="7.3" fill="#111" stroke="#111" stroke-width="0.18">)  (n=8)</text>
<line x1="156.20000000000002" y1="248.9" x2="156.20000000000002" y2="356.6" stroke="#111" stroke-width="1.0" />
<line x1="154.3" y1="356.6" x2="268" y2="356.6" stroke="#111" stroke-width="1.2" />
<line x1="153.8" y1="356.1" x2="155.8" y2="356.1" stroke="#333" stroke-width="0.6" />
<text x="152.8" y="356.6" font-family="Liberation Sans" font-size="3.6" text-anchor="end" font-weight="normal" font-style="normal" fill="#555" >0</text>
<line x1="153.8" y1="334.75" x2="155.8" y2="334.75" stroke="#333" stroke-width="0.6" />
<text x="152.8" y="335.25" font-family="Liberation Sans" font-size="3.6" text-anchor="end" font-weight="normal" font-style="normal" fill="#555" >1</text>
<line x1="153.8" y1="313.40000000000003" x2="155.8" y2="313.40000000000003" stroke="#333" stroke-width="0.6" />
<text x="152.8" y="313.9" font-family="Liberation Sans" font-size="3.6" text-anchor="end" font-weight="normal" font-style="normal" fill="#555" >2</text>
<line x1="153.8" y1="292.05" x2="155.8" y2="292.05" stroke="#333" stroke-width="0.6" />
<text x="152.8" y="292.55" font-family="Liberation Sans" font-size="3.6" text-anchor="end" font-weight="normal" font-style="normal" fill="#555" >3</text>
<line x1="153.8" y1="270.70000000000005" x2="155.8" y2="270.70000000000005" stroke="#333" stroke-width="0.6" />
<text x="152.8" y="271.2" font-family="Liberation Sans" font-size="3.6" text-anchor="end" font-weight="normal" font-style="normal" fill="#555" >4</text>
<line x1="153.8" y1="249.35000000000002" x2="155.8" y2="249.35000000000002" stroke="#333" stroke-width="0.6" />
<text x="152.8" y="249.85" font-family="Liberation Sans" font-size="3.6" text-anchor="end" font-weight="normal" font-style="normal" fill="#555" >5</text>
<line x1="155.8" y1="356.1" x2="155.8" y2="359.3" stroke="#111" stroke-width="1.0" />
<line x1="187.10000000000002" y1="356.1" x2="187.10000000000002" y2="359.3" stroke="#111" stroke-width="1.0" />
<line x1="218.4" y1="356.1" x2="218.4" y2="359.3" stroke="#111" stroke-width="1.0" />
<line x1="249.70000000000002" y1="356.1" x2="249.70000000000002" y2="359.3" stroke="#111" stroke-width="1.0" />
<text x="156.3" y="366.7" font-family="Liberation Sans" font-size="6.3" text-anchor="middle" font-weight="normal" font-style="normal" fill="#111" stroke="#111" stroke-width="0.25">0</text>
<text x="187.60000000000002" y="366.7" font-family="Liberation Sans" font-size="6.3" text-anchor="middle" font-weight="normal" font-style="normal" fill="#111" stroke="#111" stroke-width="0.25">14</text>
<text x="218.9" y="366.7" font-family="Liberation Sans" font-size="6.3" text-anchor="middle" font-weight="normal" font-style="normal" fill="#111" stroke="#111" stroke-width="0.25">28</text>
<text x="250.20000000000002" y="366.7" font-family="Liberation Sans" font-size="6.3" text-anchor="middle" font-weight="normal" font-style="normal" fill="#111" stroke="#111" stroke-width="0.25">42</text>
<text x="150.6" y="302" font-family="Liberation Sans" font-size="6.2" text-anchor="middle" font-weight="normal" font-style="normal" fill="#111" transform="rotate(-90 150.6 302)" >Score</text>
<text x="213.3" y="376.4" font-family="Liberation Serif" font-size="7.2" text-anchor="middle" font-weight="normal" font-style="normal" fill="#111"  stroke="#111" stroke-width="0.18">Days after BMT</text>
<path d="M155.8,356.1 L171.5,277.7 L187.1,286.9 L202.8,304.2 L218.4,306.1 L234.1,306.1 L249.7,316.4 L265.4,313.8" fill="none" stroke="#000" stroke-width="1.1" stroke-dasharray="2.6 1.6" stroke-linejoin="round"/>
<rect x="153.9" y="354.20000000000005" width="3.8" height="3.8" fill="#000" stroke="none" stroke-width="1" />
<line x1="171.45000000000002" y1="268.138" x2="171.45000000000002" y2="287.353" stroke="#000" stroke-width="0.85" />
<line x1="169.15" y1="268.138" x2="173.75000000000003" y2="268.138" stroke="#000" stroke-width="0.85" />
<line x1="169.15" y1="287.353" x2="173.75000000000003" y2="287.353" stroke="#000" stroke-width="0.85" />
<rect x="169.55" y="275.8455" width="3.8" height="3.8" fill="#000" stroke="none" stroke-width="1" />
<line x1="187.10000000000002" y1="269.41900000000004" x2="187.10000000000002" y2="304.43300000000005" stroke="#000" stroke-width="0.85" />
<line x1="184.8" y1="269.41900000000004" x2="189.40000000000003" y2="269.41900000000004" stroke="#000" stroke-width="0.85" />
<line x1="184.8" y1="304.43300000000005" x2="189.40000000000003" y2="304.43300000000005" stroke="#000" stroke-width="0.85" />
<rect x="185.20000000000002" y="285.02600000000007" width="3.8" height="3.8" fill="#000" stroke="none" stroke-width="1" />
<line x1="202.75" y1="294.612" x2="202.75" y2="313.82700000000006" stroke="#000" stroke-width="0.85" />
<line x1="200.45" y1="294.612" x2="205.05" y2="294.612" stroke="#000" stroke-width="0.85" />
<line x1="200.45" y1="313.82700000000006" x2="205.05" y2="313.82700000000006" stroke="#000" stroke-width="0.85" />
<rect x="200.85" y="302.31950000000006" width="3.8" height="3.8" fill="#000" stroke="none" stroke-width="1" />
<line x1="218.4" y1="295.466" x2="218.4" y2="316.81600000000003" stroke="#000" stroke-width="0.85" />
<line x1="216.1" y1="295.466" x2="220.70000000000002" y2="295.466" stroke="#000" stroke-width="0.85" />
<line x1="216.1" y1="316.81600000000003" x2="220.70000000000002" y2="316.81600000000003" stroke="#000" stroke-width="0.85" />
<rect x="216.5" y="304.24100000000004" width="3.8" height="3.8" fill="#000" stroke="none" stroke-width="1" />
<line x1="234.05" y1="295.466" x2="234.05" y2="316.81600000000003" stroke="#000" stroke-width="0.85" />
<line x1="231.75" y1="295.466" x2="236.35000000000002" y2="295.466" stroke="#000" stroke-width="0.85" />
<line x1="231.75" y1="316.81600000000003" x2="236.35000000000002" y2="316.81600000000003" stroke="#000" stroke-width="0.85" />
<rect x="232.15" y="304.24100000000004" width="3.8" height="3.8" fill="#000" stroke="none" stroke-width="1" />
<line x1="249.70000000000002" y1="307.422" x2="249.70000000000002" y2="325.356" stroke="#000" stroke-width="0.85" />
<line x1="247.4" y1="307.422" x2="252.00000000000003" y2="307.422" stroke="#000" stroke-width="0.85" />
<line x1="247.4" y1="325.356" x2="252.00000000000003" y2="325.356" stroke="#000" stroke-width="0.85" />
<rect x="247.8" y="314.48900000000003" width="3.8" height="3.8" fill="#000" stroke="none" stroke-width="1" />
<line x1="265.35" y1="309.557" x2="265.35" y2="318.097" stroke="#000" stroke-width="0.85" />
<line x1="263.05" y1="309.557" x2="267.65000000000003" y2="309.557" stroke="#000" stroke-width="0.85" />
<line x1="263.05" y1="318.097" x2="267.65000000000003" y2="318.097" stroke="#000" stroke-width="0.85" />
<rect x="263.45000000000005" y="311.927" width="3.8" height="3.8" fill="#000" stroke="none" stroke-width="1" />
<path d="M155.8,356.1 L171.5,332.6 L187.1,348.4 L202.8,346.1 L218.4,348.4 L234.1,346.1 L249.7,348.4 L265.4,352.7" fill="none" stroke="#000" stroke-width="1.5"  stroke-linejoin="round"/>
<path d="M154.10000000000002,357.46000000000004 L157.5,357.46000000000004 L155.8,354.40000000000003 Z" fill="#000" stroke="none" stroke-width="1" />
<line x1="171.45000000000002" y1="323.648" x2="171.45000000000002" y2="341.582" stroke="#000" stroke-width="0.85" />
<line x1="169.15" y1="323.648" x2="173.75000000000003" y2="323.648" stroke="#000" stroke-width="0.85" />
<line x1="169.15" y1="341.582" x2="173.75000000000003" y2="341.582" stroke="#000" stroke-width="0.85" />
<path d="M169.75000000000003,333.975 L173.15,333.975 L171.45000000000002,330.915 Z" fill="#000" stroke="none" stroke-width="1" />
<line x1="187.10000000000002" y1="345.42500000000007" x2="187.10000000000002" y2="351.403" stroke="#000" stroke-width="0.85" />
<line x1="184.8" y1="345.42500000000007" x2="189.40000000000003" y2="345.42500000000007" stroke="#000" stroke-width="0.85" />
<line x1="184.8" y1="351.403" x2="189.40000000000003" y2="351.403" stroke="#000" stroke-width="0.85" />
<path d="M185.40000000000003,349.77400000000006 L188.8,349.77400000000006 L187.10000000000002,346.71400000000006 Z" fill="#000" stroke="none" stroke-width="1" />
<line x1="202.75" y1="344.3575" x2="202.75" y2="347.77350000000007" stroke="#000" stroke-width="0.85" />
<line x1="200.45" y1="344.3575" x2="205.05" y2="344.3575" stroke="#000" stroke-width="0.85" />
<line x1="200.45" y1="347.77350000000007" x2="205.05" y2="347.77350000000007" stroke="#000" stroke-width="0.85" />
<path d="M201.05,347.42550000000006 L204.45,347.42550000000006 L202.75,344.36550000000005 Z" fill="#000" stroke="none" stroke-width="1" />
<line x1="218.4" y1="344.99800000000005" x2="218.4" y2="351.83000000000004" stroke="#000" stroke-width="0.85" />
<line x1="216.1" y1="344.99800000000005" x2="220.70000000000002" y2="344.99800000000005" stroke="#000" stroke-width="0.85" />
<line x1="216.1" y1="351.83000000000004" x2="220.70000000000002" y2="351.83000000000004" stroke="#000" stroke-width="0.85" />
<path d="M216.70000000000002,349.77400000000006 L220.1,349.77400000000006 L218.4,346.71400000000006 Z" fill="#000" stroke="none" stroke-width="1" />
<line x1="234.05" y1="341.36850000000004" x2="234.05" y2="350.76250000000005" stroke="#000" stroke-width="0.85" />
<line x1="231.75" y1="341.36850000000004" x2="236.35000000000002" y2="341.36850000000004" stroke="#000" stroke-width="0.85" />
<line x1="231.75" y1="350.76250000000005" x2="236.35000000000002" y2="350.76250000000005" stroke="#000" stroke-width="0.85" />
<path d="M232.35000000000002,347.42550000000006 L235.75,347.42550000000006 L234.05,344.36550000000005 Z" fill="#000" stroke="none" stroke-width="1" />
<line x1="249.70000000000002" y1="343.29" x2="249.70000000000002" y2="353.53800000000007" stroke="#000" stroke-width="0.85" />
<line x1="247.4" y1="343.29" x2="252.00000000000003" y2="343.29" stroke="#000" stroke-width="0.85" />
<line x1="247.4" y1="353.53800000000007" x2="252.00000000000003" y2="353.53800000000007" stroke="#000" stroke-width="0.85" />
<path d="M248.00000000000003,349.77400000000006 L251.4,349.77400000000006 L249.70000000000002,346.71400000000006 Z" fill="#000" stroke="none" stroke-width="1" />
<line x1="265.35" y1="349.26800000000003" x2="265.35" y2="356.1" stroke="#000" stroke-width="0.85" />
<line x1="263.05" y1="349.26800000000003" x2="267.65000000000003" y2="349.26800000000003" stroke="#000" stroke-width="0.85" />
<line x1="263.05" y1="356.1" x2="267.65000000000003" y2="356.1" stroke="#000" stroke-width="0.85" />
<path d="M263.65000000000003,354.04400000000004 L267.05,354.04400000000004 L265.35,350.98400000000004 Z" fill="#000" stroke="none" stroke-width="1" />
<text x="171.45000000000002" y="262.4" font-family="Liberation Sans" font-size="6.4" text-anchor="middle" font-weight="normal" font-style="normal" fill="#222" >**</text>
<text x="187.10000000000002" y="266.2" font-family="Liberation Sans" font-size="6.4" text-anchor="middle" font-weight="normal" font-style="normal" fill="#222" >**</text>
<text x="202.75" y="289.2" font-family="Liberation Sans" font-size="6.4" text-anchor="middle" font-weight="normal" font-style="normal" fill="#222" >**</text>
<text x="218.4" y="294.1" font-family="Liberation Sans" font-size="6.4" text-anchor="middle" font-weight="normal" font-style="normal" fill="#222" >**</text>
<text x="234.05" y="294.1" font-family="Liberation Sans" font-size="6.4" text-anchor="middle" font-weight="normal" font-style="normal" fill="#222" >**</text>
<text x="249.70000000000002" y="305.2" font-family="Liberation Sans" font-size="6.4" text-anchor="middle" font-weight="normal" font-style="normal" fill="#222" >**</text>
<text x="265.35" y="306.6" font-family="Liberation Sans" font-size="6.4" text-anchor="middle" font-weight="normal" font-style="normal" fill="#222" >**</text>
<path d="M152,384.6 L163.4,384.6" fill="none" stroke="#111" stroke-width="1.3" stroke-dasharray="1.2 1.4"/>
<ellipse cx="157.6" cy="384.6" rx="2" ry="2.6" fill="#000"/>
<text x="171.80" y="386.6" font-family="Liberation Serif" font-size="7.3" fill="#111" stroke="#111" stroke-width="0.18">WT-B6 (</text>
<circle cx="200.02" cy="383.39" r="1.72" fill="none" stroke="#111" stroke-width="0.69"/>
<path d="M200.02,385.10 V387.55 M198.85,386.38 H201.19" fill="none" stroke="#111" stroke-width="0.69"/>
<text x="202.36" y="386.6" font-family="Liberation Serif" font-size="7.3" fill="#111" stroke="#111" stroke-width="0.18">)+ex vivo expanded</text>
<text x="171.80" y="395.6" font-family="Liberation Serif" font-size="7.3" fill="#111" stroke="#111" stroke-width="0.18">CD90</text>
<text x="189.24" y="392.97" font-family="Liberation Serif" font-size="4.53" fill="#111">+</text>
<path d="M192.16,392.86 H196.28 L195.66,391.07 L198.73,393.48 L195.66,395.89 L196.28,394.10 H192.16 Z" fill="#111"/>
<text x="198.95" y="395.6" font-family="Liberation Serif" font-size="7.3" fill="#111" stroke="#111" stroke-width="0.18">B6(</text>
<circle cx="212.02" cy="393.63" r="1.64" fill="none" stroke="#111" stroke-width="0.69"/>
<path d="M213.17,392.48 L214.64,391.00 M213.18,391.00 H214.64 V392.46" fill="none" stroke="#111" stroke-width="0.69"/>
<text x="214.86" y="395.6" font-family="Liberation Serif" font-size="7.3" fill="#111" stroke="#111" stroke-width="0.18">)  (n=13)</text>
<text x="281.6" y="247.4" font-family="Liberation Sans" font-size="11.5" text-anchor="start" font-weight="bold" font-style="normal" fill="#000" >D</text>
<rect x="292.5" y="237.4" width="49.3" height="14.9" fill="#fff" stroke="#222" stroke-width="0.9" />
<text x="310.4" y="247.9" font-family="Liberation Serif" font-size="7.2" text-anchor="middle" font-weight="normal" font-style="normal" fill="#111"  stroke="#111" stroke-width="0.18">Day 50</text>
<text x="360.6" y="247.9" font-family="Liberation Serif" font-size="7.2" text-anchor="middle" font-weight="normal" font-style="normal" fill="#111"  stroke="#111" stroke-width="0.18">Liver</text>
<text x="468.6" y="248.4" font-family="Liberation Serif" font-size="7.2" text-anchor="middle" font-weight="normal" font-style="normal" fill="#111"  stroke="#111" stroke-width="0.18">GI tract</text>
<path d="M355.2,267.2 L355.2,261.8 L386,261.8 L386,267.2" fill="none" stroke="#111" stroke-width="1.1" />
<text x="370.2" y="259.6" font-family="Liberation Serif" font-size="6.0" text-anchor="middle" font-weight="normal" font-style="normal" fill="#2a2a2a" stroke="none">P=0.02</text>
<line x1="326.2" y1="265.40000000000003" x2="326.2" y2="353.9" stroke="#222" stroke-width="0.8" />
<line x1="324.2" y1="353.9" x2="401.5" y2="353.9" stroke="#111" stroke-width="1.1" />
<line x1="324.2" y1="353.9" x2="326.2" y2="353.9" stroke="#222" stroke-width="0.7" />
<text x="322.2" y="353.9" font-family="Liberation Sans" font-size="3.6" text-anchor="middle" font-weight="normal" font-style="normal" fill="#222" transform="rotate(-90 322.2 353.9)" >0</text>
<line x1="324.2" y1="324.53" x2="326.2" y2="324.53" stroke="#222" stroke-width="0.7" />
<text x="322.2" y="324.53" font-family="Liberation Sans" font-size="3.6" text-anchor="middle" font-weight="normal" font-style="normal" fill="#222" transform="rotate(-90 322.2 324.53)" >1</text>
<line x1="324.2" y1="295.15999999999997" x2="326.2" y2="295.15999999999997" stroke="#222" stroke-width="0.7" />
<text x="322.2" y="295.15999999999997" font-family="Liberation Sans" font-size="3.6" text-anchor="middle" font-weight="normal" font-style="normal" fill="#222" transform="rotate(-90 322.2 295.15999999999997)" >2</text>
<line x1="324.2" y1="265.78999999999996" x2="326.2" y2="265.78999999999996" stroke="#222" stroke-width="0.7" />
<text x="322.2" y="265.78999999999996" font-family="Liberation Sans" font-size="3.6" text-anchor="middle" font-weight="normal" font-style="normal" fill="#222" transform="rotate(-90 322.2 265.78999999999996)" >3</text>
<line x1="345.4" y1="353.9" x2="345.4" y2="355.7" stroke="#333" stroke-width="0.6" />
<line x1="383" y1="353.9" x2="383" y2="355.7" stroke="#333" stroke-width="0.6" />
<line x1="345.45" y1="350.8" x2="345.45" y2="347.7" stroke="#000" stroke-width="1.0" />
<line x1="339.0" y1="347.7" x2="351.9" y2="347.7" stroke="#000" stroke-width="1.25" />
<rect x="332.9" y="350.8" width="25.1" height="3.099999999999966" fill="#fff" stroke="#000" stroke-width="1.1" />
<line x1="383.0" y1="304.8" x2="383.0" y2="298" stroke="#000" stroke-width="1.0" />
<line x1="376.7" y1="298" x2="389.3" y2="298" stroke="#000" stroke-width="1.25" />
<rect x="370.6" y="304.8" width="24.8" height="49.099999999999966" fill="#000" stroke="#000" stroke-width="1.1" />
<text x="316.2" y="303.4" font-family="Liberation Serif" font-size="7.2" text-anchor="middle" font-weight="normal" font-style="normal" fill="#111" transform="rotate(-90 316.2 303.4)"  stroke="#111" stroke-width="0.1">Score</text>
<path d="M465.3,267.4 L465.3,261.8 L495.8,261.8 L495.8,267.4" fill="none" stroke="#111" stroke-width="1.1" />
<text x="479" y="260.0" font-family="Liberation Serif" font-size="6.0" text-anchor="middle" font-weight="normal" font-style="normal" fill="#2a2a2a" stroke="none">P=0.02</text>
<line x1="436.9" y1="265.8" x2="436.9" y2="353.9" stroke="#222" stroke-width="0.8" />
<line x1="434.4" y1="353.9" x2="517" y2="353.9" stroke="#111" stroke-width="1.1" />
<line x1="434.9" y1="353.9" x2="436.9" y2="353.9" stroke="#222" stroke-width="0.7" />
<text x="432.9" y="353.9" font-family="Liberation Sans" font-size="3.6" text-anchor="middle" font-weight="normal" font-style="normal" fill="#222" transform="rotate(-90 432.9 353.9)" >0</text>
<line x1="434.9" y1="336.35999999999996" x2="436.9" y2="336.35999999999996" stroke="#222" stroke-width="0.7" />
<text x="432.9" y="336.35999999999996" font-family="Liberation Sans" font-size="3.6" text-anchor="middle" font-weight="normal" font-style="normal" fill="#222" transform="rotate(-90 432.9 336.35999999999996)" >2</text>
<line x1="434.9" y1="318.82" x2="436.9" y2="318.82" stroke="#222" stroke-width="0.7" />
<text x="432.9" y="318.82" font-family="Liberation Sans" font-size="3.6" text-anchor="middle" font-weight="normal" font-style="normal" fill="#222" transform="rotate(-90 432.9 318.82)" >4</text>
<line x1="434.9" y1="301.28" x2="436.9" y2="301.28" stroke="#222" stroke-width="0.7" />
<text x="432.9" y="301.28" font-family="Liberation Sans" font-size="3.6" text-anchor="middle" font-weight="normal" font-style="normal" fill="#222" transform="rotate(-90 432.9 301.28)" >6</text>
<line x1="434.9" y1="283.74" x2="436.9" y2="283.74" stroke="#222" stroke-width="0.7" />
<text x="432.9" y="283.74" font-family="Liberation Sans" font-size="3.6" text-anchor="middle" font-weight="normal" font-style="normal" fill="#222" transform="rotate(-90 432.9 283.74)" >8</text>
<line x1="434.9" y1="266.2" x2="436.9" y2="266.2" stroke="#222" stroke-width="0.7" />
<text x="432.9" y="266.2" font-family="Liberation Sans" font-size="3.6" text-anchor="middle" font-weight="normal" font-style="normal" fill="#222" transform="rotate(-90 432.9 266.2)" >10</text>
<line x1="457" y1="353.9" x2="457" y2="355.7" stroke="#333" stroke-width="0.6" />
<line x1="496" y1="353.9" x2="496" y2="355.7" stroke="#333" stroke-width="0.6" />
<line x1="496.1" y1="283.5" x2="496.1" y2="273.8" stroke="#000" stroke-width="1.0" />
<line x1="489.75" y1="273.8" x2="502.45000000000005" y2="273.8" stroke="#000" stroke-width="1.25" />
<rect x="483" y="283.5" width="26.2" height="70.39999999999998" fill="#000" stroke="#000" stroke-width="1.1" />
<text x="424.2" y="304.4" font-family="Liberation Serif" font-size="7.2" text-anchor="middle" font-weight="normal" font-style="normal" fill="#111" transform="rotate(-90 424.2 304.4)"  stroke="#111" stroke-width="0.1">Score</text>
<rect x="312.6" y="381.4" width="2.4" height="6.2" fill="#fff" stroke="#000" stroke-width="1.3" />
<text x="318.40" y="384.4" font-family="Liberation Serif" font-size="7.3" fill="#111" stroke="#111" stroke-width="0.18">WT-B6 (</text>
<circle cx="346.62" cy="381.19" r="1.72" fill="none" stroke="#111" stroke-width="0.69"/>
<path d="M346.62,382.90 V385.35 M345.45,384.18 H347.79" fill="none" stroke="#111" stroke-width="0.69"/>
<text x="348.96" y="384.4" font-family="Liberation Serif" font-size="7.3" fill="#111" stroke="#111" stroke-width="0.18">)+ex vivo expanded</text>
<text x="318.40" y="394.2" font-family="Liberation Serif" font-size="7.3" fill="#111" stroke="#111" stroke-width="0.18">CD90</text>
<text x="335.84" y="391.57" font-family="Liberation Serif" font-size="4.53" fill="#111">+</text>
<path d="M338.76,391.46 H342.88 L342.26,389.67 L345.33,392.08 L342.26,394.49 L342.88,392.70 H338.76 Z" fill="#111"/>
<text x="345.55" y="394.2" font-family="Liberation Serif" font-size="7.3" fill="#111" stroke="#111" stroke-width="0.18">B6(</text>
<circle cx="358.83" cy="390.99" r="1.72" fill="none" stroke="#111" stroke-width="0.69"/>
<path d="M358.83,392.70 V395.15 M357.67,393.98 H360.00" fill="none" stroke="#111" stroke-width="0.69"/>
<text x="361.17" y="394.2" font-family="Liberation Serif" font-size="7.3" fill="#111" stroke="#111" stroke-width="0.18">)  (n=3)</text>
<rect x="422.3" y="380" width="5.3" height="8.8" fill="#000" stroke="none" stroke-width="1" />
<text x="428.90" y="384.4" font-family="Liberation Serif" font-size="7.3" fill="#111" stroke="#111" stroke-width="0.18">WT-B6 (</text>
<circle cx="457.12" cy="381.19" r="1.72" fill="none" stroke="#111" stroke-width="0.69"/>
<path d="M457.12,382.90 V385.35 M455.95,384.18 H458.29" fill="none" stroke="#111" stroke-width="0.69"/>
<text x="459.46" y="384.4" font-family="Liberation Serif" font-size="7.3" fill="#111" stroke="#111" stroke-width="0.18">)+ex vivo expanded</text>
<text x="428.90" y="394.2" font-family="Liberation Serif" font-size="7.3" fill="#111" stroke="#111" stroke-width="0.18">CD90</text>
<text x="446.34" y="391.57" font-family="Liberation Serif" font-size="4.53" fill="#111">+</text>
<path d="M449.26,391.46 H453.38 L452.76,389.67 L455.83,392.08 L452.76,394.49 L453.38,392.70 H449.26 Z" fill="#111"/>
<text x="456.05" y="394.2" font-family="Liberation Serif" font-size="7.3" fill="#111" stroke="#111" stroke-width="0.18">B6(</text>
<circle cx="469.33" cy="390.99" r="1.72" fill="none" stroke="#111" stroke-width="0.69"/>
<path d="M469.33,392.70 V395.15 M468.17,393.98 H470.50" fill="none" stroke="#111" stroke-width="0.69"/>
<text x="471.67" y="394.2" font-family="Liberation Serif" font-size="7.3" fill="#111" stroke="#111" stroke-width="0.18">)  (n=5)</text>
<text x="2.6" y="414.8" font-family="Liberation Sans" font-size="11.5" text-anchor="start" font-weight="bold" font-style="normal" fill="#000" >E</text>
<text x="31.6" y="414.0" font-family="Liberation Serif" font-size="7.2" text-anchor="middle" font-weight="normal" font-style="normal" fill="#111" textLength="17.6" lengthAdjust="spacingAndGlyphs" stroke="#111" stroke-width="0.18">Day10</text>
<text x="88.2" y="421.0" font-family="Liberation Serif" font-size="7.4" text-anchor="middle" font-weight="normal" font-style="normal" fill="#111"  stroke="#111" stroke-width="0.18">Spleen</text>
<path d="M78,443.6 L78,438.2 L111,438.2 L111,443.6" fill="none" stroke="#111" stroke-width="1.1" />
<text x="95" y="435.9" font-family="Liberation Serif" font-size="6.0" text-anchor="middle" font-weight="normal" font-style="normal" fill="#2a2a2a" stroke="none">P=0.04</text>
<line x1="57.9" y1="434.1" x2="57.9" y2="511" stroke="#222" stroke-width="0.8" />
<line x1="55.9" y1="511" x2="125.2" y2="511" stroke="#111" stroke-width="1.1" />
<line x1="55.9" y1="511.0" x2="57.9" y2="511.0" stroke="#222" stroke-width="0.7" />
<text x="53.7" y="511.0" font-family="Liberation Sans" font-size="3.8" text-anchor="middle" font-weight="bold" font-style="normal" fill="#111" transform="rotate(-90 53.7 511.0)" >0.0</text>
<line x1="55.9" y1="485.5" x2="57.9" y2="485.5" stroke="#222" stroke-width="0.7" />
<text x="53.7" y="485.5" font-family="Liberation Sans" font-size="3.8" text-anchor="middle" font-weight="bold" font-style="normal" fill="#111" transform="rotate(-90 53.7 485.5)" >0.5</text>
<line x1="55.9" y1="460.0" x2="57.9" y2="460.0" stroke="#222" stroke-width="0.7" />
<text x="53.7" y="460.0" font-family="Liberation Sans" font-size="3.8" text-anchor="middle" font-weight="bold" font-style="normal" fill="#111" transform="rotate(-90 53.7 460.0)" >1.0</text>
<line x1="55.9" y1="434.5" x2="57.9" y2="434.5" stroke="#222" stroke-width="0.7" />
<text x="53.7" y="434.5" font-family="Liberation Sans" font-size="3.8" text-anchor="middle" font-weight="bold" font-style="normal" fill="#111" transform="rotate(-90 53.7 434.5)" >1.5</text>
<line x1="75.0" y1="497" x2="75.0" y2="489.4" stroke="#000" stroke-width="1.0" />
<line x1="69.65" y1="489.4" x2="80.35" y2="489.4" stroke="#000" stroke-width="1.25" />
<rect x="63.8" y="497" width="22.4" height="14" fill="#fff" stroke="#000" stroke-width="1.1" />
<line x1="109.35" y1="466" x2="109.35" y2="457.4" stroke="#000" stroke-width="1.0" />
<line x1="104.0" y1="457.4" x2="114.69999999999999" y2="457.4" stroke="#000" stroke-width="1.25" />
<rect x="98.3" y="466" width="22.1" height="45" fill="#000" stroke="#000" stroke-width="1.1" />
<line x1="75.0" y1="511" x2="75.0" y2="512.8" stroke="#333" stroke-width="0.6" />
<line x1="109.35" y1="511" x2="109.35" y2="512.8" stroke="#333" stroke-width="0.6" />
<text x="47.8" y="472.5" font-family="Liberation Serif" font-size="7.2" text-anchor="middle" font-weight="normal" font-style="normal" fill="#111" transform="rotate(-90 47.8 472.5)"  stroke="#111" stroke-width="0.1">CD45.2<tspan font-size="5" baseline-shift="super">+</tspan>CD8<tspan font-size="5" baseline-shift="super">+</tspan>Tet<tspan font-size="5" baseline-shift="super">+</tspan> Tcells (x10<tspan font-size="5" baseline-shift="super">6</tspan>)</text>
<text x="218.4" y="421.0" font-family="Liberation Serif" font-size="7.4" text-anchor="middle" font-weight="normal" font-style="normal" fill="#111"  stroke="#111" stroke-width="0.18">IEL</text>
<path d="M207.2,443.6 L207.2,438.2 L240,438.2 L240,443.6" fill="none" stroke="#111" stroke-width="1.1" />
<text x="224.9" y="435.9" font-family="Liberation Serif" font-size="6.0" text-anchor="middle" font-weight="normal" font-style="normal" fill="#2a2a2a" stroke="none">P=0.04</text>
<line x1="186.7" y1="434.1" x2="186.7" y2="512.5" stroke="#222" stroke-width="0.8" />
<line x1="184.7" y1="512.5" x2="253.5" y2="512.5" stroke="#111" stroke-width="1.1" />
<line x1="184.7" y1="512.5" x2="186.7" y2="512.5" stroke="#222" stroke-width="0.7" />
<text x="182.5" y="512.5" font-family="Liberation Sans" font-size="3.8" text-anchor="middle" font-weight="bold" font-style="normal" fill="#111" transform="rotate(-90 182.5 512.5)" >0.0</text>
<line x1="184.7" y1="496.9" x2="186.7" y2="496.9" stroke="#222" stroke-width="0.7" />
<text x="182.5" y="496.9" font-family="Liberation Sans" font-size="3.8" text-anchor="middle" font-weight="bold" font-style="normal" fill="#111" transform="rotate(-90 182.5 496.9)" >0.5</text>
<line x1="184.7" y1="481.3" x2="186.7" y2="481.3" stroke="#222" stroke-width="0.7" />
<text x="182.5" y="481.3" font-family="Liberation Sans" font-size="3.8" text-anchor="middle" font-weight="bold" font-style="normal" fill="#111" transform="rotate(-90 182.5 481.3)" >1.0</text>
<line x1="184.7" y1="465.7" x2="186.7" y2="465.7" stroke="#222" stroke-width="0.7" />
<text x="182.5" y="465.7" font-family="Liberation Sans" font-size="3.8" text-anchor="middle" font-weight="bold" font-style="normal" fill="#111" transform="rotate(-90 182.5 465.7)" >1.5</text>
<line x1="184.7" y1="450.1" x2="186.7" y2="450.1" stroke="#222" stroke-width="0.7" />
<text x="182.5" y="450.1" font-family="Liberation Sans" font-size="3.8" text-anchor="middle" font-weight="bold" font-style="normal" fill="#111" transform="rotate(-90 182.5 450.1)" >2.0</text>
<line x1="184.7" y1="434.5" x2="186.7" y2="434.5" stroke="#222" stroke-width="0.7" />
<text x="182.5" y="434.5" font-family="Liberation Sans" font-size="3.8" text-anchor="middle" font-weight="bold" font-style="normal" fill="#111" transform="rotate(-90 182.5 434.5)" >2.5</text>
<line x1="203.8" y1="501.8" x2="203.8" y2="496.4" stroke="#000" stroke-width="1.0" />
<line x1="198.0" y1="496.4" x2="209.60000000000002" y2="496.4" stroke="#000" stroke-width="1.25" />
<rect x="192.4" y="501.8" width="22.8" height="10.699999999999989" fill="#fff" stroke="#000" stroke-width="1.1" />
<line x1="238.54999999999998" y1="458.4" x2="238.54999999999998" y2="444.4" stroke="#000" stroke-width="1.0" />
<line x1="232.79999999999998" y1="444.4" x2="244.29999999999998" y2="444.4" stroke="#000" stroke-width="1.25" />
<rect x="227.1" y="458.4" width="22.9" height="54.10000000000002" fill="#000" stroke="#000" stroke-width="1.1" />
<line x1="203.8" y1="512.5" x2="203.8" y2="514.3" stroke="#333" stroke-width="0.6" />
<line x1="238.54999999999998" y1="512.5" x2="238.54999999999998" y2="514.3" stroke="#333" stroke-width="0.6" />
<text x="176.5" y="472.5" font-family="Liberation Serif" font-size="7.2" text-anchor="middle" font-weight="normal" font-style="normal" fill="#111" transform="rotate(-90 176.5 472.5)"  stroke="#111" stroke-width="0.1">CD45.2<tspan font-size="5" baseline-shift="super">+</tspan>CD8<tspan font-size="5" baseline-shift="super">+</tspan>Tet<tspan font-size="5" baseline-shift="super">+</tspan> Tcells (x10<tspan font-size="5" baseline-shift="super">3</tspan>)</text>
<text x="347.4" y="421.6" font-family="Liberation Serif" font-size="7.4" text-anchor="middle" font-weight="normal" font-style="normal" fill="#111"  stroke="#111" stroke-width="0.18">Liver</text>
<path d="M330.6,444.4 L330.6,439 L364.8,439 L364.8,444.4" fill="none" stroke="#111" stroke-width="1.1" />
<text x="348.9" y="436.7" font-family="Liberation Serif" font-size="6.0" text-anchor="middle" font-weight="normal" font-style="normal" fill="#2a2a2a" stroke="none">P=0.03</text>
<line x1="313.7" y1="437.3" x2="313.7" y2="515.2" stroke="#222" stroke-width="0.8" />
<line x1="311.7" y1="515.2" x2="385" y2="515.2" stroke="#111" stroke-width="1.1" />
<line x1="311.7" y1="515.2" x2="313.7" y2="515.2" stroke="#222" stroke-width="0.7" />
<text x="309.5" y="515.2" font-family="Liberation Sans" font-size="3.8" text-anchor="middle" font-weight="bold" font-style="normal" fill="#111" transform="rotate(-90 309.5 515.2)" >0</text>
<line x1="311.7" y1="489.3666666666667" x2="313.7" y2="489.3666666666667" stroke="#222" stroke-width="0.7" />
<text x="309.5" y="489.3666666666667" font-family="Liberation Sans" font-size="3.8" text-anchor="middle" font-weight="bold" font-style="normal" fill="#111" transform="rotate(-90 309.5 489.3666666666667)" >1</text>
<line x1="311.7" y1="463.53333333333336" x2="313.7" y2="463.53333333333336" stroke="#222" stroke-width="0.7" />
<text x="309.5" y="463.53333333333336" font-family="Liberation Sans" font-size="3.8" text-anchor="middle" font-weight="bold" font-style="normal" fill="#111" transform="rotate(-90 309.5 463.53333333333336)" >2</text>
<line x1="311.7" y1="437.7" x2="313.7" y2="437.7" stroke="#222" stroke-width="0.7" />
<text x="309.5" y="437.7" font-family="Liberation Sans" font-size="3.8" text-anchor="middle" font-weight="bold" font-style="normal" fill="#111" transform="rotate(-90 309.5 437.7)" >3</text>
<line x1="332.09999999999997" y1="507.7" x2="332.09999999999997" y2="505.8" stroke="#000" stroke-width="1.0" />
<line x1="326.29999999999995" y1="505.8" x2="337.9" y2="505.8" stroke="#000" stroke-width="1.25" />
<rect x="320.4" y="507.7" width="23.4" height="7.500000000000057" fill="#fff" stroke="#000" stroke-width="1.1" />
<line x1="367.25" y1="464.1" x2="367.25" y2="451.2" stroke="#000" stroke-width="1.0" />
<line x1="361.2" y1="451.2" x2="373.3" y2="451.2" stroke="#000" stroke-width="1.25" />
<rect x="355.4" y="464.1" width="23.7" height="51.10000000000002" fill="#000" stroke="#000" stroke-width="1.1" />
<line x1="332.09999999999997" y1="515.2" x2="332.09999999999997" y2="517.0" stroke="#333" stroke-width="0.6" />
<line x1="367.25" y1="515.2" x2="367.25" y2="517.0" stroke="#333" stroke-width="0.6" />
<text x="305.9" y="472.5" font-family="Liberation Serif" font-size="7.2" text-anchor="middle" font-weight="normal" font-style="normal" fill="#111" transform="rotate(-90 305.9 472.5)"  stroke="#111" stroke-width="0.1">CD45.2<tspan font-size="5" baseline-shift="super">+</tspan>CD8<tspan font-size="5" baseline-shift="super">+</tspan>Tet<tspan font-size="5" baseline-shift="super">+</tspan> Tcells (x10<tspan font-size="5" baseline-shift="super">3</tspan>)</text>
<rect x="417.2" y="434.4" width="5.4" height="5.4" fill="#fff" stroke="#000" stroke-width="1.2" />
<text x="427.70" y="438.8" font-family="Liberation Serif" font-size="7.3" fill="#111" stroke="#111" stroke-width="0.18">WT-B6 (</text>
<circle cx="455.92" cy="435.59" r="1.72" fill="none" stroke="#111" stroke-width="0.69"/>
<path d="M455.92,437.30 V439.75 M454.75,438.58 H457.09" fill="none" stroke="#111" stroke-width="0.69"/>
<text x="458.26" y="438.8" font-family="Liberation Serif" font-size="7.3" fill="#111" stroke="#111" stroke-width="0.18">)+ex vivo expanded</text>
<text x="427.70" y="447.6" font-family="Liberation Serif" font-size="7.3" fill="#111" stroke="#111" stroke-width="0.18">CD90</text>
<text x="445.14" y="444.97" font-family="Liberation Serif" font-size="4.53" fill="#111">+</text>
<path d="M448.06,444.86 H452.18 L451.56,443.07 L454.63,445.48 L451.56,447.89 L452.18,446.10 H448.06 Z" fill="#111"/>
<text x="454.85" y="447.6" font-family="Liberation Serif" font-size="7.3" fill="#111" stroke="#111" stroke-width="0.18">B6(</text>
<circle cx="468.13" cy="444.39" r="1.72" fill="none" stroke="#111" stroke-width="0.69"/>
<path d="M468.13,446.10 V448.55 M466.97,447.38 H469.30" fill="none" stroke="#111" stroke-width="0.69"/>
<text x="470.47" y="447.6" font-family="Liberation Serif" font-size="7.3" fill="#111" stroke="#111" stroke-width="0.18">) (n=3)</text>
<rect x="416.6" y="466.2" width="6.5" height="6.8" fill="#000" stroke="none" stroke-width="1" />
<text x="427.70" y="472.7" font-family="Liberation Serif" font-size="7.3" fill="#111" stroke="#111" stroke-width="0.18">WT-B6 (</text>
<circle cx="455.92" cy="469.49" r="1.72" fill="none" stroke="#111" stroke-width="0.69"/>
<path d="M455.92,471.20 V473.65 M454.75,472.48 H457.09" fill="none" stroke="#111" stroke-width="0.69"/>
<text x="458.26" y="472.7" font-family="Liberation Serif" font-size="7.3" fill="#111" stroke="#111" stroke-width="0.18">)+ex vivo expanded</text>
<text x="427.70" y="481.4" font-family="Liberation Serif" font-size="7.3" fill="#111" stroke="#111" stroke-width="0.18">CD90</text>
<text x="445.14" y="478.77" font-family="Liberation Serif" font-size="4.53" fill="#111">+</text>
<path d="M448.06,478.66 H452.18 L451.56,476.87 L454.63,479.28 L451.56,481.69 L452.18,479.90 H448.06 Z" fill="#111"/>
<text x="454.85" y="481.4" font-family="Liberation Serif" font-size="7.3" fill="#111" stroke="#111" stroke-width="0.18">B6(</text>
<circle cx="467.92" cy="479.43" r="1.64" fill="none" stroke="#111" stroke-width="0.69"/>
<path d="M469.07,478.28 L470.54,476.80 M469.08,476.80 H470.54 V478.26" fill="none" stroke="#111" stroke-width="0.69"/>
<text x="470.76" y="481.4" font-family="Liberation Serif" font-size="7.3" fill="#111" stroke="#111" stroke-width="0.18">) (n=5)</text>
<text x="3" y="541.6" font-family="Liberation Sans" font-size="11.5" text-anchor="start" font-weight="bold" font-style="normal" fill="#000" >F</text>
<line x1="35.3" y1="549.2" x2="35.3" y2="640.5" stroke="#000" stroke-width="1.3" />
<line x1="32.9" y1="640.5" x2="162.6" y2="640.5" stroke="#000" stroke-width="1.4" />
<line x1="32.699999999999996" y1="640.2" x2="35.3" y2="640.2" stroke="#000" stroke-width="1.0" />
<text x="29.699999999999996" y="642.4" font-family="Liberation Serif" font-size="6.4" text-anchor="end" font-weight="normal" font-style="normal" fill="#000" stroke="#000" stroke-width="0.1">0</text>
<line x1="32.699999999999996" y1="617.5500000000001" x2="35.3" y2="617.5500000000001" stroke="#000" stroke-width="1.0" />
<text x="29.699999999999996" y="619.75" font-family="Liberation Serif" font-size="6.4" text-anchor="end" font-weight="normal" font-style="normal" fill="#000" stroke="#000" stroke-width="0.1">1</text>
<line x1="32.699999999999996" y1="594.9000000000001" x2="35.3" y2="594.9000000000001" stroke="#000" stroke-width="1.0" />
<text x="29.699999999999996" y="597.1" font-family="Liberation Serif" font-size="6.4" text-anchor="end" font-weight="normal" font-style="normal" fill="#000" stroke="#000" stroke-width="0.1">2</text>
<line x1="32.699999999999996" y1="572.25" x2="35.3" y2="572.25" stroke="#000" stroke-width="1.0" />
<text x="29.699999999999996" y="574.45" font-family="Liberation Serif" font-size="6.4" text-anchor="end" font-weight="normal" font-style="normal" fill="#000" stroke="#000" stroke-width="0.1">3</text>
<line x1="32.699999999999996" y1="549.6" x2="35.3" y2="549.6" stroke="#000" stroke-width="1.0" />
<text x="29.699999999999996" y="551.8" font-family="Liberation Serif" font-size="6.4" text-anchor="end" font-weight="normal" font-style="normal" fill="#000" stroke="#000" stroke-width="0.1">4</text>
<line x1="35.3" y1="640.2" x2="35.3" y2="643.2" stroke="#000" stroke-width="1.0" />
<line x1="60.556" y1="640.2" x2="60.556" y2="643.2" stroke="#000" stroke-width="1.0" />
<line x1="85.812" y1="640.2" x2="85.812" y2="643.2" stroke="#000" stroke-width="1.0" />
<line x1="111.068" y1="640.2" x2="111.068" y2="643.2" stroke="#000" stroke-width="1.0" />
<line x1="136.324" y1="640.2" x2="136.324" y2="643.2" stroke="#000" stroke-width="1.0" />
<line x1="161.57999999999998" y1="640.2" x2="161.57999999999998" y2="643.2" stroke="#000" stroke-width="1.0" />
<text x="34.699999999999996" y="649.8" font-family="Liberation Serif" font-size="6.4" text-anchor="middle" font-weight="normal" font-style="normal" fill="#000" stroke="#000" stroke-width="0.1">0</text>
<text x="59.955999999999996" y="649.8" font-family="Liberation Serif" font-size="6.4" text-anchor="middle" font-weight="normal" font-style="normal" fill="#000" stroke="#000" stroke-width="0.1">14</text>
<text x="85.212" y="649.8" font-family="Liberation Serif" font-size="6.4" text-anchor="middle" font-weight="normal" font-style="normal" fill="#000" stroke="#000" stroke-width="0.1">28</text>
<text x="110.468" y="649.8" font-family="Liberation Serif" font-size="6.4" text-anchor="middle" font-weight="normal" font-style="normal" fill="#000" stroke="#000" stroke-width="0.1">42</text>
<text x="135.72400000000002" y="649.8" font-family="Liberation Serif" font-size="6.4" text-anchor="middle" font-weight="normal" font-style="normal" fill="#000" stroke="#000" stroke-width="0.1">56</text>
<text x="160.98" y="649.8" font-family="Liberation Serif" font-size="6.4" text-anchor="middle" font-weight="normal" font-style="normal" fill="#000" stroke="#000" stroke-width="0.1">70</text>
<text x="101.2" y="659.4" font-family="Liberation Serif" font-size="7.2" text-anchor="middle" font-weight="normal" font-style="normal" fill="#111" textLength="46" lengthAdjust="spacingAndGlyphs" stroke="#111" stroke-width="0.18">Days after BMT</text>
<text x="21.6" y="591.6" font-family="Liberation Serif" font-size="7.0" text-anchor="middle" font-weight="normal" font-style="normal" fill="#111" transform="rotate(-90 21.6 591.6)"  stroke="#111" stroke-width="0.1">Score</text>
<path d="M35.3,640.2 L47.9,589.2 L60.6,608.0 L73.2,581.3 L85.8,589.9 L98.4,573.2 L111.1,571.1 L123.7,582.9 L136.3,576.3 L149.0,579.0 L161.6,580.0" fill="none" stroke="#686868" stroke-width="1.4" stroke-dasharray="1.4 2.0" stroke-linejoin="round"/>
<path d="M35.3,638.5 V641.9000000000001 M33.82,639.35 L36.78,641.05 M33.82,641.05 L36.78,639.35" fill="none" stroke="#4a4a4a" stroke-width="0.9" />
<line x1="47.928" y1="581.3100000000001" x2="47.928" y2="597.1650000000001" stroke="#686868" stroke-width="1.15" />
<line x1="45.428" y1="581.3100000000001" x2="50.428" y2="581.3100000000001" stroke="#686868" stroke-width="1.15" />
<line x1="45.428" y1="597.1650000000001" x2="50.428" y2="597.1650000000001" stroke="#686868" stroke-width="1.15" />
<path d="M47.928,587.5375 V590.9375000000001 M46.45,588.39 L49.41,590.09 M46.45,590.09 L49.41,588.39" fill="none" stroke="#4a4a4a" stroke-width="0.9" />
<line x1="60.556" y1="602.3745" x2="60.556" y2="613.6995000000001" stroke="#686868" stroke-width="1.15" />
<line x1="58.056" y1="602.3745" x2="63.056" y2="602.3745" stroke="#686868" stroke-width="1.15" />
<line x1="58.056" y1="613.6995000000001" x2="63.056" y2="613.6995000000001" stroke="#686868" stroke-width="1.15" />
<path d="M60.556,606.337 V609.7370000000001 M59.08,607.19 L62.03,608.89 M59.08,608.89 L62.03,607.19" fill="none" stroke="#4a4a4a" stroke-width="0.9" />
<line x1="73.184" y1="575.421" x2="73.184" y2="587.1990000000001" stroke="#686868" stroke-width="1.15" />
<line x1="70.684" y1="575.421" x2="75.684" y2="575.421" stroke="#686868" stroke-width="1.15" />
<line x1="70.684" y1="587.1990000000001" x2="75.684" y2="587.1990000000001" stroke="#686868" stroke-width="1.15" />
<path d="M73.184,579.61 V583.0100000000001 M71.70,580.46 L74.66,582.16 M71.70,582.16 L74.66,580.46" fill="none" stroke="#4a4a4a" stroke-width="0.9" />
<line x1="85.812" y1="585.3870000000001" x2="85.812" y2="594.447" stroke="#686868" stroke-width="1.15" />
<line x1="83.312" y1="585.3870000000001" x2="88.312" y2="585.3870000000001" stroke="#686868" stroke-width="1.15" />
<line x1="83.312" y1="594.447" x2="88.312" y2="594.447" stroke="#686868" stroke-width="1.15" />
<path d="M85.812,588.217 V591.6170000000001 M84.33,589.07 L87.29,590.77 M84.33,590.77 L87.29,589.07" fill="none" stroke="#4a4a4a" stroke-width="0.9" />
<line x1="98.44" y1="565.6815" x2="98.44" y2="580.6305000000001" stroke="#686868" stroke-width="1.15" />
<line x1="95.94" y1="565.6815" x2="100.94" y2="565.6815" stroke="#686868" stroke-width="1.15" />
<line x1="95.94" y1="580.6305000000001" x2="100.94" y2="580.6305000000001" stroke="#686868" stroke-width="1.15" />
<path d="M98.44,571.456 V574.8560000000001 M96.96,572.31 L99.92,574.01 M96.96,574.01 L99.92,572.31" fill="none" stroke="#4a4a4a" stroke-width="0.9" />
<line x1="111.068" y1="560.4720000000001" x2="111.068" y2="581.763" stroke="#686868" stroke-width="1.15" />
<line x1="108.568" y1="560.4720000000001" x2="113.568" y2="560.4720000000001" stroke="#686868" stroke-width="1.15" />
<line x1="108.568" y1="581.763" x2="113.568" y2="581.763" stroke="#686868" stroke-width="1.15" />
<path d="M111.068,569.4175 V572.8175000000001 M109.59,570.27 L112.55,571.97 M109.59,571.97 L112.55,570.27" fill="none" stroke="#4a4a4a" stroke-width="0.9" />
<line x1="123.696" y1="576.1005000000001" x2="123.696" y2="589.6905" stroke="#686868" stroke-width="1.15" />
<line x1="121.196" y1="576.1005000000001" x2="126.196" y2="576.1005000000001" stroke="#686868" stroke-width="1.15" />
<line x1="121.196" y1="589.6905" x2="126.196" y2="589.6905" stroke="#686868" stroke-width="1.15" />
<path d="M123.696,581.1955 V584.5955000000001 M122.22,582.05 L125.17,583.75 M122.22,583.75 L125.17,582.05" fill="none" stroke="#4a4a4a" stroke-width="0.9" />
<line x1="136.324" y1="567.267" x2="136.324" y2="585.387" stroke="#686868" stroke-width="1.15" />
<line x1="133.824" y1="567.267" x2="138.824" y2="567.267" stroke="#686868" stroke-width="1.15" />
<line x1="133.824" y1="585.387" x2="138.824" y2="585.387" stroke="#686868" stroke-width="1.15" />
<path d="M136.324,574.627 V578.027 M134.84,575.48 L137.80,577.18 M134.84,577.18 L137.80,575.48" fill="none" stroke="#4a4a4a" stroke-width="0.9" />
<line x1="148.952" y1="572.2500000000001" x2="148.952" y2="585.84" stroke="#686868" stroke-width="1.15" />
<line x1="146.452" y1="572.2500000000001" x2="151.452" y2="572.2500000000001" stroke="#686868" stroke-width="1.15" />
<line x1="146.452" y1="585.84" x2="151.452" y2="585.84" stroke="#686868" stroke-width="1.15" />
<path d="M148.952,577.345 V580.7450000000001 M147.47,578.20 L150.43,579.90 M147.47,579.90 L150.43,578.20" fill="none" stroke="#4a4a4a" stroke-width="0.9" />
<line x1="161.57999999999998" y1="573.1560000000001" x2="161.57999999999998" y2="586.746" stroke="#686868" stroke-width="1.15" />
<line x1="159.07999999999998" y1="573.1560000000001" x2="164.07999999999998" y2="573.1560000000001" stroke="#686868" stroke-width="1.15" />
<line x1="159.07999999999998" y1="586.746" x2="164.07999999999998" y2="586.746" stroke="#686868" stroke-width="1.15" />
<path d="M161.57999999999998,578.251 V581.6510000000001 M160.10,579.10 L163.06,580.80 M160.10,580.80 L163.06,579.10" fill="none" stroke="#4a4a4a" stroke-width="0.9" />
<path d="M35.3,640.2 L47.9,622.8 L60.6,629.3 L73.2,610.3 L85.8,614.4 L98.4,610.3 L111.1,611.9 L123.7,600.8 L136.3,614.4 L149.0,606.5 L161.6,614.4" fill="none" stroke="#5c5c5c" stroke-width="1.6"  stroke-linejoin="round"/>
<rect x="33.9" y="638.8000000000001" width="2.8" height="2.8" fill="#5c5c5c" stroke="none" stroke-width="1" />
<line x1="47.928" y1="613.6995000000001" x2="47.928" y2="631.8195" stroke="#5c5c5c" stroke-width="1.15" />
<line x1="45.428" y1="613.6995000000001" x2="50.428" y2="613.6995000000001" stroke="#5c5c5c" stroke-width="1.15" />
<line x1="45.428" y1="631.8195" x2="50.428" y2="631.8195" stroke="#5c5c5c" stroke-width="1.15" />
<rect x="46.528" y="621.3595" width="2.8" height="2.8" fill="#5c5c5c" stroke="none" stroke-width="1" />
<line x1="60.556" y1="623.892" x2="60.556" y2="634.7640000000001" stroke="#5c5c5c" stroke-width="1.15" />
<line x1="58.056" y1="623.892" x2="63.056" y2="623.892" stroke="#5c5c5c" stroke-width="1.15" />
<line x1="58.056" y1="634.7640000000001" x2="63.056" y2="634.7640000000001" stroke="#5c5c5c" stroke-width="1.15" />
<rect x="59.156" y="627.9280000000001" width="2.8" height="2.8" fill="#5c5c5c" stroke="none" stroke-width="1" />
<line x1="73.184" y1="604.1865" x2="73.184" y2="616.4175" stroke="#5c5c5c" stroke-width="1.15" />
<line x1="70.684" y1="604.1865" x2="75.684" y2="604.1865" stroke="#5c5c5c" stroke-width="1.15" />
<line x1="70.684" y1="616.4175" x2="75.684" y2="616.4175" stroke="#5c5c5c" stroke-width="1.15" />
<rect x="71.78399999999999" y="608.902" width="2.8" height="2.8" fill="#5c5c5c" stroke="none" stroke-width="1" />
<line x1="85.812" y1="609.849" x2="85.812" y2="618.909" stroke="#5c5c5c" stroke-width="1.15" />
<line x1="83.312" y1="609.849" x2="88.312" y2="609.849" stroke="#5c5c5c" stroke-width="1.15" />
<line x1="83.312" y1="618.909" x2="88.312" y2="618.909" stroke="#5c5c5c" stroke-width="1.15" />
<rect x="84.41199999999999" y="612.979" width="2.8" height="2.8" fill="#5c5c5c" stroke="none" stroke-width="1" />
<line x1="98.44" y1="602.8275" x2="98.44" y2="617.7765" stroke="#5c5c5c" stroke-width="1.15" />
<line x1="95.94" y1="602.8275" x2="100.94" y2="602.8275" stroke="#5c5c5c" stroke-width="1.15" />
<line x1="95.94" y1="617.7765" x2="100.94" y2="617.7765" stroke="#5c5c5c" stroke-width="1.15" />
<rect x="97.03999999999999" y="608.902" width="2.8" height="2.8" fill="#5c5c5c" stroke="none" stroke-width="1" />
<line x1="111.068" y1="605.0925000000001" x2="111.068" y2="618.6825" stroke="#5c5c5c" stroke-width="1.15" />
<line x1="108.568" y1="605.0925000000001" x2="113.568" y2="605.0925000000001" stroke="#5c5c5c" stroke-width="1.15" />
<line x1="108.568" y1="618.6825" x2="113.568" y2="618.6825" stroke="#5c5c5c" stroke-width="1.15" />
<rect x="109.66799999999999" y="610.4875000000001" width="2.8" height="2.8" fill="#5c5c5c" stroke="none" stroke-width="1" />
<line x1="123.696" y1="598.5240000000001" x2="123.696" y2="603.0540000000001" stroke="#5c5c5c" stroke-width="1.15" />
<line x1="121.196" y1="598.5240000000001" x2="126.196" y2="598.5240000000001" stroke="#5c5c5c" stroke-width="1.15" />
<line x1="121.196" y1="603.0540000000001" x2="126.196" y2="603.0540000000001" stroke="#5c5c5c" stroke-width="1.15" />
<rect x="122.29599999999999" y="599.3890000000001" width="2.8" height="2.8" fill="#5c5c5c" stroke="none" stroke-width="1" />
<line x1="136.324" y1="608.037" x2="136.324" y2="620.721" stroke="#5c5c5c" stroke-width="1.15" />
<line x1="133.824" y1="608.037" x2="138.824" y2="608.037" stroke="#5c5c5c" stroke-width="1.15" />
<line x1="133.824" y1="620.721" x2="138.824" y2="620.721" stroke="#5c5c5c" stroke-width="1.15" />
<rect x="134.924" y="612.979" width="2.8" height="2.8" fill="#5c5c5c" stroke="none" stroke-width="1" />
<line x1="148.952" y1="602.3745" x2="148.952" y2="610.5285" stroke="#5c5c5c" stroke-width="1.15" />
<line x1="146.452" y1="602.3745" x2="151.452" y2="602.3745" stroke="#5c5c5c" stroke-width="1.15" />
<line x1="146.452" y1="610.5285" x2="151.452" y2="610.5285" stroke="#5c5c5c" stroke-width="1.15" />
<rect x="147.552" y="605.0515" width="2.8" height="2.8" fill="#5c5c5c" stroke="none" stroke-width="1" />
<line x1="161.57999999999998" y1="610.755" x2="161.57999999999998" y2="618.003" stroke="#5c5c5c" stroke-width="1.15" />
<line x1="159.07999999999998" y1="610.755" x2="164.07999999999998" y2="610.755" stroke="#5c5c5c" stroke-width="1.15" />
<line x1="159.07999999999998" y1="618.003" x2="164.07999999999998" y2="618.003" stroke="#5c5c5c" stroke-width="1.15" />
<rect x="160.17999999999998" y="612.979" width="2.8" height="2.8" fill="#5c5c5c" stroke="none" stroke-width="1" />
<path d="M35.3,640.2 L47.9,616.9 L60.6,635.4 L73.2,631.1 L85.8,632.0 L98.4,628.9 L111.1,636.1 L123.7,634.5 L136.3,632.0 L149.0,636.1 L161.6,637.3" fill="none" stroke="#000" stroke-width="1.8"  stroke-linejoin="round"/>
<path d="M33.8,641.4000000000001 L36.8,641.4000000000001 L35.3,638.7 Z" fill="#000" stroke="none" stroke-width="1" />
<line x1="47.928" y1="611.661" x2="47.928" y2="622.08" stroke="#000" stroke-width="1.15" />
<line x1="45.428" y1="611.661" x2="50.428" y2="611.661" stroke="#000" stroke-width="1.15" />
<line x1="45.428" y1="622.08" x2="50.428" y2="622.08" stroke="#000" stroke-width="1.15" />
<path d="M46.428,618.0705 L49.428,618.0705 L47.928,615.3705 Z" fill="#000" stroke="none" stroke-width="1" />
<line x1="60.556" y1="633.1785000000001" x2="60.556" y2="637.7085000000001" stroke="#000" stroke-width="1.15" />
<line x1="58.056" y1="633.1785000000001" x2="63.056" y2="633.1785000000001" stroke="#000" stroke-width="1.15" />
<line x1="58.056" y1="637.7085000000001" x2="63.056" y2="637.7085000000001" stroke="#000" stroke-width="1.15" />
<path d="M59.056,636.6435000000001 L62.056,636.6435000000001 L60.556,633.9435000000001 Z" fill="#000" stroke="none" stroke-width="1" />
<line x1="73.184" y1="628.4220000000001" x2="73.184" y2="633.8580000000001" stroke="#000" stroke-width="1.15" />
<line x1="70.684" y1="628.4220000000001" x2="75.684" y2="628.4220000000001" stroke="#000" stroke-width="1.15" />
<line x1="70.684" y1="633.8580000000001" x2="75.684" y2="633.8580000000001" stroke="#000" stroke-width="1.15" />
<path d="M71.684,632.3400000000001 L74.684,632.3400000000001 L73.184,629.6400000000001 Z" fill="#000" stroke="none" stroke-width="1" />
<line x1="85.812" y1="629.1015000000001" x2="85.812" y2="634.9905" stroke="#000" stroke-width="1.15" />
<line x1="83.312" y1="629.1015000000001" x2="88.312" y2="629.1015000000001" stroke="#000" stroke-width="1.15" />
<line x1="83.312" y1="634.9905" x2="88.312" y2="634.9905" stroke="#000" stroke-width="1.15" />
<path d="M84.312,633.2460000000001 L87.312,633.2460000000001 L85.812,630.546 Z" fill="#000" stroke="none" stroke-width="1" />
<line x1="98.44" y1="626.61" x2="98.44" y2="631.14" stroke="#000" stroke-width="1.15" />
<line x1="95.94" y1="626.61" x2="100.94" y2="626.61" stroke="#000" stroke-width="1.15" />
<line x1="95.94" y1="631.14" x2="100.94" y2="631.14" stroke="#000" stroke-width="1.15" />
<path d="M96.94,630.075 L99.94,630.075 L98.44,627.375 Z" fill="#000" stroke="none" stroke-width="1" />
<line x1="111.068" y1="634.9905" x2="111.068" y2="637.2555000000001" stroke="#000" stroke-width="1.15" />
<line x1="108.568" y1="634.9905" x2="113.568" y2="634.9905" stroke="#000" stroke-width="1.15" />
<line x1="108.568" y1="637.2555000000001" x2="113.568" y2="637.2555000000001" stroke="#000" stroke-width="1.15" />
<path d="M109.568,637.3230000000001 L112.568,637.3230000000001 L111.068,634.623 Z" fill="#000" stroke="none" stroke-width="1" />
<line x1="123.696" y1="633.1785" x2="123.696" y2="635.8965000000001" stroke="#000" stroke-width="1.15" />
<line x1="121.196" y1="633.1785" x2="126.196" y2="633.1785" stroke="#000" stroke-width="1.15" />
<line x1="121.196" y1="635.8965000000001" x2="126.196" y2="635.8965000000001" stroke="#000" stroke-width="1.15" />
<path d="M122.196,635.7375000000001 L125.196,635.7375000000001 L123.696,633.0375 Z" fill="#000" stroke="none" stroke-width="1" />
<line x1="136.324" y1="628.6485" x2="136.324" y2="635.4435000000001" stroke="#000" stroke-width="1.15" />
<line x1="133.824" y1="628.6485" x2="138.824" y2="628.6485" stroke="#000" stroke-width="1.15" />
<line x1="133.824" y1="635.4435000000001" x2="138.824" y2="635.4435000000001" stroke="#000" stroke-width="1.15" />
<path d="M134.824,633.2460000000001 L137.824,633.2460000000001 L136.324,630.546 Z" fill="#000" stroke="none" stroke-width="1" />
<line x1="148.952" y1="634.9905" x2="148.952" y2="637.2555000000001" stroke="#000" stroke-width="1.15" />
<line x1="146.452" y1="634.9905" x2="151.452" y2="634.9905" stroke="#000" stroke-width="1.15" />
<line x1="146.452" y1="637.2555000000001" x2="151.452" y2="637.2555000000001" stroke="#000" stroke-width="1.15" />
<path d="M147.452,637.3230000000001 L150.452,637.3230000000001 L148.952,634.623 Z" fill="#000" stroke="none" stroke-width="1" />
<line x1="161.57999999999998" y1="636.123" x2="161.57999999999998" y2="638.3880000000001" stroke="#000" stroke-width="1.15" />
<line x1="159.07999999999998" y1="636.123" x2="164.07999999999998" y2="636.123" stroke="#000" stroke-width="1.15" />
<line x1="159.07999999999998" y1="638.3880000000001" x2="164.07999999999998" y2="638.3880000000001" stroke="#000" stroke-width="1.15" />
<path d="M160.07999999999998,638.4555000000001 L163.07999999999998,638.4555000000001 L161.57999999999998,635.7555000000001 Z" fill="#000" stroke="none" stroke-width="1" />
<rect x="17" y="665" width="155.5" height="37.3" fill="none" stroke="#222" stroke-width="0.9" />
<line x1="36.6" y1="673" x2="50.9" y2="673" stroke="#5c5c5c" stroke-width="1.6" />
<rect x="41.8" y="671.1" width="3.8" height="3.8" fill="#5c5c5c" stroke="none" stroke-width="1" />
<text x="53.40" y="675.2" font-family="Liberation Serif" font-size="7.4" fill="#111" stroke="#111" stroke-width="0.18">B6(</text>
<circle cx="66.87" cy="671.94" r="1.74" fill="none" stroke="#111" stroke-width="0.70"/>
<path d="M66.87,673.68 V676.16 M65.68,674.98 H68.05" fill="none" stroke="#111" stroke-width="0.70"/>
<text x="69.24" y="675.2" font-family="Liberation Serif" font-size="7.4" fill="#111" stroke="#111" stroke-width="0.18">, T cell 2x10</text>
<text x="106.37" y="672.54" font-family="Liberation Serif" font-size="4.59" fill="#111">6</text>
<text x="108.66" y="675.2" font-family="Liberation Serif" font-size="7.4" fill="#111" stroke="#111" stroke-width="0.18">)</text>
<path d="M111.50,672.43 H115.67 L115.05,670.61 L118.16,673.05 L115.05,675.50 L115.67,673.68 H111.50 Z" fill="#111"/>
<text x="118.38" y="675.2" font-family="Liberation Serif" font-size="7.4" fill="#111" stroke="#111" stroke-width="0.18">B6(</text>
<circle cx="131.63" cy="673.20" r="1.67" fill="none" stroke="#111" stroke-width="0.70"/>
<path d="M132.79,672.04 L134.29,670.54 M132.81,670.54 H134.29 V672.02" fill="none" stroke="#111" stroke-width="0.70"/>
<text x="134.51" y="675.2" font-family="Liberation Serif" font-size="7.4" fill="#111" stroke="#111" stroke-width="0.18">) (n=6)</text>
<path d="M37,683.8 L51,683.8" fill="none" stroke="#777" stroke-width="1.1" stroke-dasharray="1.2 2.6"/>
<path d="M44,681.8 V685.8 M42.3,682.8 L45.7,684.8 M42.3,684.8 L45.7,682.8" fill="none" stroke="#4a4a4a" stroke-width="0.9" />
<text x="53.40" y="685.6" font-family="Liberation Serif" font-size="7.4" fill="#111" stroke="#111" stroke-width="0.18">B6(</text>
<circle cx="66.87" cy="682.34" r="1.74" fill="none" stroke="#111" stroke-width="0.70"/>
<path d="M66.87,684.08 V686.56 M65.68,685.38 H68.05" fill="none" stroke="#111" stroke-width="0.70"/>
<text x="69.24" y="685.6" font-family="Liberation Serif" font-size="7.4" fill="#111" stroke="#111" stroke-width="0.18">, T cell 15x10</text>
<text x="110.07" y="682.94" font-family="Liberation Serif" font-size="4.59" fill="#111">6</text>
<text x="112.36" y="685.6" font-family="Liberation Serif" font-size="7.4" fill="#111" stroke="#111" stroke-width="0.18">)</text>
<path d="M115.20,682.83 H119.37 L118.75,681.01 L121.86,683.45 L118.75,685.90 L119.37,684.08 H115.20 Z" fill="#111"/>
<text x="122.08" y="685.6" font-family="Liberation Serif" font-size="7.4" fill="#111" stroke="#111" stroke-width="0.18">B6(</text>
<circle cx="135.33" cy="683.60" r="1.67" fill="none" stroke="#111" stroke-width="0.70"/>
<path d="M136.49,682.44 L137.99,680.94 M136.51,680.94 H137.99 V682.42" fill="none" stroke="#111" stroke-width="0.70"/>
<text x="138.21" y="685.6" font-family="Liberation Serif" font-size="7.4" fill="#111" stroke="#111" stroke-width="0.18">) (n=12)</text>
<line x1="36.6" y1="694.5" x2="51" y2="694.5" stroke="#000" stroke-width="1.8" />
<path d="M41.8,693 L46.4,693 L44.1,696.6 Z" fill="#000" stroke="none" stroke-width="1" />
<text x="53.40" y="696.4" font-family="Liberation Serif" font-size="7.4" fill="#111" stroke="#111" stroke-width="0.18">B6(</text>
<circle cx="66.65" cy="694.40" r="1.67" fill="none" stroke="#111" stroke-width="0.70"/>
<path d="M67.81,693.24 L69.31,691.74 M67.83,691.74 H69.31 V693.22" fill="none" stroke="#111" stroke-width="0.70"/>
<text x="69.53" y="696.4" font-family="Liberation Serif" font-size="7.4" fill="#111" stroke="#111" stroke-width="0.18">, T cell 15x10</text>
<text x="110.37" y="693.74" font-family="Liberation Serif" font-size="4.59" fill="#111">6</text>
<text x="112.66" y="696.4" font-family="Liberation Serif" font-size="7.4" fill="#111" stroke="#111" stroke-width="0.18">)</text>
<path d="M115.49,693.62 H119.67 L119.05,691.81 L122.15,694.25 L119.05,696.70 L119.67,694.88 H115.49 Z" fill="#111"/>
<text x="122.38" y="696.4" font-family="Liberation Serif" font-size="7.4" fill="#111" stroke="#111" stroke-width="0.18">B6(</text>
<circle cx="135.62" cy="694.40" r="1.67" fill="none" stroke="#111" stroke-width="0.70"/>
<path d="M136.79,693.24 L138.29,691.74 M136.81,691.74 H138.29 V693.22" fill="none" stroke="#111" stroke-width="0.70"/>
<text x="138.51" y="696.4" font-family="Liberation Serif" font-size="7.4" fill="#111" stroke="#111" stroke-width="0.18">) (n=11)</text>
<text x="236.4" y="542.6" font-family="Liberation Sans" font-size="11.5" text-anchor="start" font-weight="bold" font-style="normal" fill="#000" >G</text>
<text x="300.6" y="543.8" font-family="Liberation Serif" font-size="7.2" text-anchor="middle" font-weight="normal" font-style="normal" fill="#111"  stroke="#111" stroke-width="0.18">Liver</text>
<path d="M272.1,563 L272.1,558.5 L297.7,558.5 L297.7,563" fill="none" stroke="#111" stroke-width="1.1" />
<text x="284.2" y="556.2" font-family="Liberation Serif" font-size="6.2" text-anchor="middle" font-weight="normal" font-style="normal" fill="#2a2a2a" stroke="none">P=0.04</text>
<path d="M304.6,563 L304.6,558.5 L330.4,558.5 L330.4,563" fill="none" stroke="#111" stroke-width="1.1" />
<text x="318.8" y="556.2" font-family="Liberation Serif" font-size="6.2" text-anchor="middle" font-weight="normal" font-style="normal" fill="#2a2a2a" stroke="none">P=0.0001</text>
<line x1="265" y1="565.8000000000001" x2="265" y2="646.2" stroke="#111" stroke-width="1.0" />
<line x1="263.5" y1="646.2" x2="340.4" y2="646.2" stroke="#111" stroke-width="1.0" />
<line x1="263" y1="646.2" x2="265" y2="646.2" stroke="#222" stroke-width="0.7" />
<text x="264.6" y="649.0" font-family="Liberation Serif" font-size="5.9" text-anchor="end" font-weight="normal" font-style="normal" fill="#111"  stroke="#111" stroke-width="0.18">0.0</text>
<line x1="263" y1="626.2" x2="265" y2="626.2" stroke="#222" stroke-width="0.7" />
<text x="264.6" y="629.0" font-family="Liberation Serif" font-size="5.9" text-anchor="end" font-weight="normal" font-style="normal" fill="#111"  stroke="#111" stroke-width="0.18">2.5</text>
<line x1="263" y1="606.2" x2="265" y2="606.2" stroke="#222" stroke-width="0.7" />
<text x="264.6" y="609.0" font-family="Liberation Serif" font-size="5.9" text-anchor="end" font-weight="normal" font-style="normal" fill="#111"  stroke="#111" stroke-width="0.18">5.0</text>
<line x1="263" y1="586.2" x2="265" y2="586.2" stroke="#222" stroke-width="0.7" />
<text x="264.6" y="589.0" font-family="Liberation Serif" font-size="5.9" text-anchor="end" font-weight="normal" font-style="normal" fill="#111"  stroke="#111" stroke-width="0.18">7.5</text>
<line x1="263" y1="566.2" x2="265" y2="566.2" stroke="#222" stroke-width="0.7" />
<text x="264.6" y="569.0" font-family="Liberation Serif" font-size="5.9" text-anchor="end" font-weight="normal" font-style="normal" fill="#111"  stroke="#111" stroke-width="0.18">10.0</text>
<line x1="278.05" y1="633.8" x2="278.05" y2="622.2" stroke="#000" stroke-width="1.0" />
<line x1="273.45" y1="622.2" x2="282.65000000000003" y2="622.2" stroke="#000" stroke-width="1.25" />
<rect x="269.6" y="633.8" width="16.9" height="12.400000000000091" fill="#fff" stroke="#000" stroke-width="1.1" />
<line x1="278.05" y1="646.2" x2="278.05" y2="648.2" stroke="#222" stroke-width="0.7" />
<line x1="303.3" y1="584" x2="303.3" y2="571.7" stroke="#000" stroke-width="1.0" />
<line x1="298.7" y1="571.7" x2="307.90000000000003" y2="571.7" stroke="#000" stroke-width="1.25" />
<rect x="294.8" y="584" width="17" height="62.200000000000045" fill="#000" stroke="#000" stroke-width="1.1" />
<line x1="303.3" y1="646.2" x2="303.3" y2="648.2" stroke="#222" stroke-width="0.7" />
<line x1="327.3" y1="637.8" x2="327.3" y2="634.8" stroke="#000" stroke-width="1.0" />
<line x1="323.05" y1="634.8" x2="331.55" y2="634.8" stroke="#000" stroke-width="1.25" />
<rect x="318.8" y="637.8" width="17" height="8.400000000000091" fill="#9a9a9a" stroke="#000" stroke-width="1.1" />
<line x1="327.3" y1="646.2" x2="327.3" y2="648.2" stroke="#222" stroke-width="0.7" />
<text x="254.6" y="600.6" font-family="Liberation Serif" font-size="7.4" text-anchor="middle" font-weight="normal" font-style="normal" fill="#111" transform="rotate(-90 254.6 600.6)"  stroke="#111" stroke-width="0.1">Score</text>
<text x="413.8" y="543.8" font-family="Liberation Serif" font-size="7.2" text-anchor="middle" font-weight="normal" font-style="normal" fill="#111"  stroke="#111" stroke-width="0.18">GI tract</text>
<path d="M383.2,563 L383.2,558.5 L408.5,558.5 L408.5,563" fill="none" stroke="#111" stroke-width="1.1" />
<text x="393" y="556.2" font-family="Liberation Serif" font-size="6.2" text-anchor="middle" font-weight="normal" font-style="normal" fill="#2a2a2a" stroke="none">P=0.07</text>
<path d="M416.2,563 L416.2,558.5 L440.8,558.5 L440.8,563" fill="none" stroke="#111" stroke-width="1.1" />
<text x="429.7" y="556.2" font-family="Liberation Serif" font-size="6.2" text-anchor="middle" font-weight="normal" font-style="normal" fill="#2a2a2a" stroke="none">P=0.001</text>
<line x1="375.2" y1="565.8000000000001" x2="375.2" y2="645.6" stroke="#111" stroke-width="1.0" />
<line x1="373.7" y1="645.6" x2="450" y2="645.6" stroke="#111" stroke-width="1.0" />
<line x1="373.2" y1="645.6" x2="375.2" y2="645.6" stroke="#222" stroke-width="0.7" />
<text x="374.8" y="648.4" font-family="Liberation Serif" font-size="5.9" text-anchor="end" font-weight="normal" font-style="normal" fill="#111"  stroke="#111" stroke-width="0.18">0.0</text>
<line x1="373.2" y1="625.75" x2="375.2" y2="625.75" stroke="#222" stroke-width="0.7" />
<text x="374.8" y="628.55" font-family="Liberation Serif" font-size="5.9" text-anchor="end" font-weight="normal" font-style="normal" fill="#111"  stroke="#111" stroke-width="0.18">2.5</text>
<line x1="373.2" y1="605.9000000000001" x2="375.2" y2="605.9000000000001" stroke="#222" stroke-width="0.7" />
<text x="374.8" y="608.7" font-family="Liberation Serif" font-size="5.9" text-anchor="end" font-weight="normal" font-style="normal" fill="#111"  stroke="#111" stroke-width="0.18">5.0</text>
<line x1="373.2" y1="586.0500000000001" x2="375.2" y2="586.0500000000001" stroke="#222" stroke-width="0.7" />
<text x="374.8" y="588.85" font-family="Liberation Serif" font-size="5.9" text-anchor="end" font-weight="normal" font-style="normal" fill="#111"  stroke="#111" stroke-width="0.18">7.5</text>
<line x1="373.2" y1="566.2" x2="375.2" y2="566.2" stroke="#222" stroke-width="0.7" />
<text x="374.8" y="569.0" font-family="Liberation Serif" font-size="5.9" text-anchor="end" font-weight="normal" font-style="normal" fill="#111"  stroke="#111" stroke-width="0.18">10.0</text>
<line x1="387.3" y1="625.5" x2="387.3" y2="613.8" stroke="#000" stroke-width="1.0" />
<line x1="382.8" y1="613.8" x2="391.8" y2="613.8" stroke="#000" stroke-width="1.25" />
<rect x="378.6" y="625.5" width="17.4" height="20.100000000000023" fill="#fff" stroke="#000" stroke-width="1.1" />
<line x1="387.3" y1="645.6" x2="387.3" y2="647.6" stroke="#222" stroke-width="0.7" />
<line x1="412.3" y1="575.4" x2="412.3" y2="566.2" stroke="#000" stroke-width="1.0" />
<line x1="408.15000000000003" y1="566.2" x2="416.45" y2="566.2" stroke="#000" stroke-width="1.25" />
<rect x="403.8" y="575.4" width="17" height="70.20000000000005" fill="#000" stroke="#000" stroke-width="1.1" />
<line x1="412.3" y1="645.6" x2="412.3" y2="647.6" stroke="#222" stroke-width="0.7" />
<line x1="436.95" y1="636.3" x2="436.95" y2="633.2" stroke="#000" stroke-width="1.0" />
<line x1="432.5" y1="633.2" x2="441.4" y2="633.2" stroke="#000" stroke-width="1.25" />
<rect x="428.5" y="636.3" width="16.9" height="9.300000000000068" fill="#9a9a9a" stroke="#000" stroke-width="1.1" />
<line x1="436.95" y1="645.6" x2="436.95" y2="647.6" stroke="#222" stroke-width="0.7" />
<text x="364.9" y="600.6" font-family="Liberation Serif" font-size="7.4" text-anchor="middle" font-weight="normal" font-style="normal" fill="#111" transform="rotate(-90 364.9 600.6)"  stroke="#111" stroke-width="0.1">Score</text>
<rect x="268.9" y="666" width="170.8" height="33.8" fill="none" stroke="#222" stroke-width="0.9" />
<rect x="281" y="672.2" width="6.4" height="4.4" fill="#fff" stroke="#000" stroke-width="1.1" />
<rect x="280.6" y="681.3" width="7.1" height="5" fill="#000" stroke="none" stroke-width="1" />
<rect x="281" y="690.6" width="6.4" height="4.4" fill="#8a8a8a" stroke="#222" stroke-width="1.0" />
<text x="296.60" y="678.2" font-family="Liberation Serif" font-size="7.28" fill="#111" stroke="#111" stroke-width="0.18">B6(</text>
<circle cx="309.85" cy="675.00" r="1.71" fill="none" stroke="#111" stroke-width="0.69"/>
<path d="M309.85,676.71 V679.15 M308.69,677.98 H311.01" fill="none" stroke="#111" stroke-width="0.69"/>
<text x="312.18" y="678.2" font-family="Liberation Serif" font-size="7.28" fill="#111" stroke="#111" stroke-width="0.18">, T cell 2x10</text>
<text x="348.71" y="675.58" font-family="Liberation Serif" font-size="4.51" fill="#111">6</text>
<text x="350.97" y="678.2" font-family="Liberation Serif" font-size="7.28" fill="#111" stroke="#111" stroke-width="0.18">)</text>
<path d="M353.76,675.47 H357.86 L357.25,673.69 L360.31,676.09 L357.25,678.49 L357.86,676.71 H353.76 Z" fill="#111"/>
<text x="360.53" y="678.2" font-family="Liberation Serif" font-size="7.28" fill="#111" stroke="#111" stroke-width="0.18"> B6(</text>
<circle cx="375.38" cy="676.23" r="1.64" fill="none" stroke="#111" stroke-width="0.69"/>
<path d="M376.53,675.09 L378.00,673.61 M376.54,673.61 H378.00 V675.07" fill="none" stroke="#111" stroke-width="0.69"/>
<text x="378.22" y="678.2" font-family="Liberation Serif" font-size="7.28" fill="#111" stroke="#111" stroke-width="0.18">) (n=6)</text>
<text x="296.60" y="687.8" font-family="Liberation Serif" font-size="7.28" fill="#111" stroke="#111" stroke-width="0.18">B6(</text>
<circle cx="309.85" cy="684.60" r="1.71" fill="none" stroke="#111" stroke-width="0.69"/>
<path d="M309.85,686.31 V688.75 M308.69,687.58 H311.01" fill="none" stroke="#111" stroke-width="0.69"/>
<text x="312.18" y="687.8" font-family="Liberation Serif" font-size="7.28" fill="#111" stroke="#111" stroke-width="0.18">, T cell 15x10</text>
<text x="352.35" y="685.18" font-family="Liberation Serif" font-size="4.51" fill="#111">6</text>
<text x="354.61" y="687.8" font-family="Liberation Serif" font-size="7.28" fill="#111" stroke="#111" stroke-width="0.18">)</text>
<path d="M357.40,685.07 H361.50 L360.89,683.29 L363.95,685.69 L360.89,688.09 L361.50,686.31 H357.40 Z" fill="#111"/>
<text x="364.17" y="687.8" font-family="Liberation Serif" font-size="7.28" fill="#111" stroke="#111" stroke-width="0.18"> B6(</text>
<circle cx="379.02" cy="685.83" r="1.64" fill="none" stroke="#111" stroke-width="0.69"/>
<path d="M380.17,684.69 L381.64,683.21 M380.18,683.21 H381.64 V684.67" fill="none" stroke="#111" stroke-width="0.69"/>
<text x="381.86" y="687.8" font-family="Liberation Serif" font-size="7.28" fill="#111" stroke="#111" stroke-width="0.18">) (n=12)</text>
<text x="298.40" y="697.2" font-family="Liberation Serif" font-size="7.28" fill="#111" stroke="#111" stroke-width="0.18">B6(</text>
<circle cx="311.43" cy="695.23" r="1.64" fill="none" stroke="#111" stroke-width="0.69"/>
<path d="M312.58,694.09 L314.05,692.61 M312.60,692.61 H314.05 V694.07" fill="none" stroke="#111" stroke-width="0.69"/>
<text x="314.27" y="697.2" font-family="Liberation Serif" font-size="7.28" fill="#111" stroke="#111" stroke-width="0.18">, T cell 15x10</text>
<text x="354.44" y="694.58" font-family="Liberation Serif" font-size="4.51" fill="#111">6</text>
<text x="356.70" y="697.2" font-family="Liberation Serif" font-size="7.28" fill="#111" stroke="#111" stroke-width="0.18">)</text>
<path d="M359.49,694.47 H363.59 L362.98,692.69 L366.04,695.09 L362.98,697.49 L363.59,695.71 H359.49 Z" fill="#111"/>
<text x="366.26" y="697.2" font-family="Liberation Serif" font-size="7.28" fill="#111" stroke="#111" stroke-width="0.18">B6(</text>
<circle cx="379.29" cy="695.23" r="1.64" fill="none" stroke="#111" stroke-width="0.69"/>
<path d="M380.44,694.09 L381.91,692.61 M380.45,692.61 H381.91 V694.07" fill="none" stroke="#111" stroke-width="0.69"/>
<text x="382.13" y="697.2" font-family="Liberation Serif" font-size="7.28" fill="#111" stroke="#111" stroke-width="0.18">) (n=11)</text>
</svg>
</body></html>
